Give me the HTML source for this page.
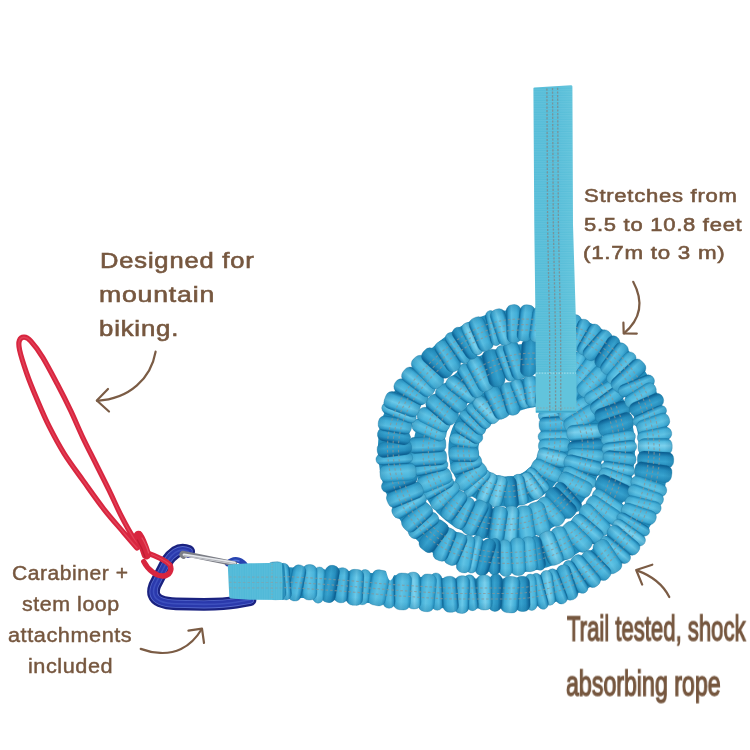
<!DOCTYPE html>
<html lang="en"><head><meta charset="utf-8"><title>Tow rope features</title>
<style>
html,body{margin:0;padding:0;background:#fff}
body{width:750px;height:750px;overflow:hidden;position:relative;font-family:"Liberation Sans",sans-serif}
svg{position:absolute;left:0;top:0}
.t{position:absolute;will-change:transform;-webkit-font-smoothing:antialiased;white-space:nowrap;color:#76573f;transform-origin:0 0;margin:0;-webkit-text-stroke:.35px #76573f}
</style></head>
<body>
<svg width="750" height="750" viewBox="0 0 750 750">

<defs>
<linearGradient id="g1" x1="0" x2="1" y1="0" y2="0"><stop offset="0" stop-color="#095e90"/><stop offset=".14" stop-color="#2f98c7"/><stop offset=".35" stop-color="#58bde1"/><stop offset=".7" stop-color="#44afd8"/><stop offset=".9" stop-color="#2c94c2"/><stop offset="1" stop-color="#1474a6"/></linearGradient>
<linearGradient id="g2" x1="0" x2="1" y1="0" y2="0"><stop offset="0" stop-color="#1271a4"/><stop offset=".18" stop-color="#40abd5"/><stop offset=".45" stop-color="#6ac9e9"/><stop offset=".8" stop-color="#3da8d3"/><stop offset="1" stop-color="#0c6293"/></linearGradient>
<linearGradient id="g3" x1="0" x2="1" y1="0" y2="0"><stop offset="0" stop-color="#07588c"/><stop offset=".3" stop-color="#278fbf"/><stop offset=".6" stop-color="#37a2ce"/><stop offset="1" stop-color="#1e84b5"/></linearGradient>
<linearGradient id="g4" x1="0" x2="1" y1="0" y2="0"><stop offset="0" stop-color="#228bbb"/><stop offset=".2" stop-color="#4ab4db"/><stop offset=".55" stop-color="#60c3e4"/><stop offset=".85" stop-color="#41acd6"/><stop offset="1" stop-color="#1e84b5"/></linearGradient>
<linearGradient id="g5" x1="0" x2="1" y1="0" y2="0"><stop offset="0" stop-color="#177cac"/><stop offset=".2" stop-color="#56bce0"/><stop offset=".45" stop-color="#7cd1ed"/><stop offset=".8" stop-color="#4db6dc"/><stop offset="1" stop-color="#0e6593"/></linearGradient>
<linearGradient id="ge" x1="0" x2="0" y1="0" y2="1"><stop offset="0" stop-color="#0c5d88" stop-opacity=".26"/><stop offset=".22" stop-color="#0c5d88" stop-opacity="0"/><stop offset=".78" stop-color="#0c5d88" stop-opacity="0"/><stop offset="1" stop-color="#0c5d88" stop-opacity=".26"/></linearGradient>
<linearGradient id="gs" x1="0" x2="1" y1="0" y2="0"><stop offset="0" stop-color="#56bdd8"/><stop offset=".5" stop-color="#55bcd8"/><stop offset="1" stop-color="#60c3db"/></linearGradient>
<pattern id="weave" width="4" height="2.4" patternUnits="userSpaceOnUse"><rect width="4" height="1.2" fill="#ffffff" fill-opacity=".07"/></pattern>
<pattern id="weave2" width="2.4" height="4" patternUnits="userSpaceOnUse"><rect width="1.2" height="4" fill="#ffffff" fill-opacity=".05"/></pattern>
</defs>

<g id="coil">
<polyline points="554.7,413.9 555.2,416.8 555.6,419.8 555.8,422.8 555.9,425.8 555.8,428.8 555.7,431.8 555.4,434.8 555.2,437.8 554.9,440.8 554.6,443.7 554.5,446.7 554.2,449.7 553.7,452.7 553.1,455.6 552.3,458.5 551.3,461.3 550.1,464.1 548.7,466.8 547.2,469.4 545.6,471.9 543.7,474.2 541.8,476.5 539.6,478.6 537.4,480.6 535.0,482.5 532.6,484.2 530.0,485.7 527.3,487.1 524.6,488.3 521.8,489.3 518.9,490.1 515.9,490.8 513.0,491.2 510.0,491.5 507.0,491.5 504.0,491.4 501.0,491.2 498.0,490.8 495.1,490.2 492.2,489.4 489.3,488.5 486.6,487.4 483.9,486.0 481.3,484.5 478.8,482.8 476.5,480.8 474.4,478.7 472.4,476.5 470.7,474.1 469.1,471.5 467.7,468.9 466.5,466.1 465.5,463.3 464.7,460.4 464.1,457.5 463.7,454.5 463.4,451.5 463.4,448.5 463.5,445.5 463.9,442.5 464.4,439.6 465.2,436.7 466.2,433.8 467.4,431.1 468.7,428.4 470.2,425.8 471.9,423.3 473.7,420.9 475.6,418.6 477.6,416.4 479.7,414.3 482.0,412.3 484.3,410.3 486.7,408.5 489.1,406.8 491.7,405.2 494.3,403.8 497.0,402.5 499.7,401.3 502.6,400.2 505.4,399.3 508.3,398.6 511.2,397.9 514.1,396.9 516.9,395.9 519.8,395.0 522.6,394.2 525.6,393.5 528.5,392.9 531.5,392.4 534.4,391.8 537.4,391.4 540.4,391.1 543.4,391.0 546.4,391.1 549.3,391.4 552.3,392.0 555.2,392.8 557.9,394.0 560.5,395.6 562.9,397.3 565.3,399.2 567.6,401.1 569.7,403.2 571.8,405.3 573.8,407.6 575.7,409.9 577.4,412.4 579.1,414.9 580.6,417.5 582.0,420.1 583.2,422.9 584.3,425.6 585.3,428.5 586.1,431.4 586.8,434.3 587.3,437.2 587.7,440.2 587.9,443.2 588.0,446.2 587.9,449.2 587.7,452.2 587.4,455.2 586.9,458.1 586.3,461.1 585.5,464.0 584.7,466.9 583.7,469.7 582.6,472.5 581.4,475.2 580.1,477.9 578.7,480.6 577.2,483.2 575.6,485.7 573.9,488.2 572.2,490.6 570.3,493.0 568.4,495.3 566.4,497.6 564.4,499.7 562.2,501.9 560.0,503.9 557.8,505.9 555.4,507.7 553.0,509.5 550.5,511.2 548.0,512.8 545.4,514.3 542.8,515.7 540.1,517.1 537.3,518.3 534.5,519.4 531.7,520.4 528.9,521.3 526.0,522.1 523.0,522.8 520.1,523.3 517.1,523.8 514.2,524.2 511.2,524.4 508.2,524.5 505.2,524.6 502.2,524.5 499.2,524.4 496.2,524.2 493.2,523.9 490.2,523.5 487.3,523.0 484.3,522.4 481.4,521.7 478.5,520.9 475.7,520.0 472.8,518.9 470.1,517.8 467.3,516.5 464.7,515.1 462.1,513.6 459.6,512.0 457.1,510.3 454.7,508.5 452.5,506.5 450.3,504.4 448.2,502.3 446.2,500.0 444.3,497.7 442.5,495.3 440.9,492.8 439.3,490.3 437.8,487.7 436.4,485.0 435.1,482.3 433.9,479.5 432.9,476.7 431.9,473.9 431.1,471.0 430.4,468.1 429.8,465.1 429.3,462.2 428.9,459.2 428.6,456.2 428.4,453.2 428.4,450.2 428.4,447.2 428.6,444.2 429.0,441.3 429.4,438.3 430.1,435.4 430.8,432.5 431.7,429.6 432.8,426.8 433.9,424.0 435.2,421.3 436.5,418.6 438.0,416.0 439.6,413.4 441.2,410.9 442.9,408.5 444.7,406.1 446.6,403.7 448.5,401.4 450.5,399.2 452.6,397.0 454.6,394.8 456.8,392.7 458.9,390.6 461.1,388.5 463.3,386.5 465.5,384.5 467.8,382.5 470.1,380.6 472.4,378.7 474.8,376.9 477.3,375.2 479.8,373.5 482.3,371.9 484.9,370.4 487.5,369.0 490.2,367.7 492.9,366.4 495.7,365.3 498.5,364.2 501.4,363.3 504.3,362.5 507.2,361.7 510.1,361.1 513.1,360.6 516.0,360.1 519.0,359.6 522.0,359.2 524.9,359.0 527.9,358.8 530.9,358.7 533.9,358.6 536.9,358.6 539.9,358.7 542.9,358.8 545.9,359.1 548.9,359.4 551.9,359.8 554.8,360.4 557.7,361.0 560.7,361.8 563.5,362.7 566.3,363.7 569.1,364.8 571.9,366.0 574.5,367.4 577.1,368.9 579.7,370.5 582.1,372.3 584.5,374.1 586.8,376.1 589.0,378.0 591.2,380.1 593.3,382.2 595.3,384.4 597.3,386.7 599.2,389.0 601.0,391.4 602.8,393.8 604.5,396.3 606.1,398.8 607.6,401.4 609.0,404.1 610.4,406.7 611.7,409.4 612.9,412.2 614.0,415.0 615.0,417.8 615.9,420.7 616.7,423.6 617.5,426.5 618.1,429.4 618.7,432.3 619.1,435.3 619.5,438.3 619.8,441.3 619.9,444.3 620.0,447.3 620.0,450.3 619.9,453.3 619.8,456.3 619.5,459.2 619.2,462.2 618.8,465.2 618.3,468.2 617.7,471.1 617.0,474.0 616.3,476.9 615.5,479.8 614.6,482.7 613.6,485.5 612.5,488.3 611.4,491.1 610.2,493.9 608.9,496.6 607.6,499.2 606.1,501.9 604.6,504.5 603.1,507.0 601.4,509.5 599.7,512.0 597.9,514.4 596.1,516.8 594.2,519.1 592.2,521.4 590.2,523.6 588.1,525.7 585.9,527.8 583.7,529.8 581.4,531.8 579.1,533.7 576.7,535.5 574.3,537.3 571.8,539.0 569.3,540.6 566.8,542.2 564.2,543.7 561.5,545.1 558.9,546.5 556.1,547.8 553.4,549.0 550.6,550.1 547.8,551.2 545.0,552.2 542.1,553.1 539.2,553.9 536.3,554.7 533.4,555.3 530.5,555.9 527.5,556.5 524.6,556.9 521.6,557.3 518.6,557.6 515.6,557.8 512.6,557.9 509.6,558.0 506.6,558.0 503.6,557.9 500.6,557.8 497.6,557.6 494.6,557.4 491.6,557.1 488.7,556.8 485.7,556.4 482.7,555.9 479.8,555.4 476.8,554.8 473.9,554.1 471.0,553.4 468.1,552.6 465.3,551.7 462.4,550.7 459.6,549.7 456.8,548.5 454.1,547.3 451.3,546.1 448.7,544.7 446.0,543.3 443.4,541.8 440.9,540.2 438.4,538.5 436.0,536.8 433.6,534.9 431.3,533.0 429.0,531.0 426.9,529.0 424.8,526.8 422.7,524.6 420.7,522.4 418.8,520.1 416.9,517.7 415.1,515.4 413.4,512.9 411.7,510.4 410.1,507.9 408.5,505.3 407.1,502.7 405.6,500.1 404.3,497.4 403.0,494.7 401.8,491.9 400.7,489.1 399.7,486.3 398.7,483.5 397.8,480.6 397.0,477.7 396.2,474.8 395.6,471.9 395.0,469.0 394.4,466.0 394.0,463.0 393.6,460.1 393.4,457.1 393.2,454.1 393.0,451.1 393.0,448.1 393.0,445.1 393.2,442.1 393.4,439.1 393.8,436.1 394.2,433.2 394.8,430.2 395.5,427.3 396.3,424.4 397.1,421.5 398.1,418.7 399.1,415.9 400.2,413.1 401.5,410.3 402.7,407.6 404.1,405.0 405.5,402.3 407.0,399.7 408.6,397.2 410.2,394.6 411.9,392.2 413.7,389.7 415.5,387.3 417.3,384.9 419.2,382.6 421.1,380.3 423.1,378.1 425.1,375.8 427.1,373.6 429.2,371.5 431.3,369.3 433.4,367.2 435.6,365.1 437.8,363.0 439.9,361.0 442.1,359.0 444.4,357.0 446.6,355.0 448.9,353.0 451.3,351.1 453.6,349.3 456.0,347.5 458.4,345.7 460.9,344.0 463.4,342.3 465.9,340.7 468.5,339.2 471.1,337.7 473.7,336.3 476.4,334.9 479.1,333.6 481.9,332.4 484.6,331.3 487.5,330.2 490.3,329.3 493.2,328.4 496.0,327.6 499.0,326.9 501.9,326.3 504.9,325.7 507.8,325.3 510.8,325.0 513.8,324.8 516.8,324.6 519.8,324.6 522.8,324.6 525.8,324.6 528.8,324.6 531.8,324.8 534.8,324.9 537.8,325.1 540.8,325.4 543.8,325.7 546.7,326.0 549.7,326.5 552.7,326.9 555.6,327.5 558.6,328.1 561.5,328.8 564.4,329.5 567.3,330.3 570.1,331.2 573.0,332.1 575.8,333.1 578.6,334.2 581.4,335.4 584.1,336.6 586.8,337.9 589.5,339.3 592.1,340.7 594.7,342.3 597.2,343.9 599.7,345.5 602.2,347.3 604.5,349.1 606.9,351.0 609.2,352.9 611.4,354.9 613.6,357.0 615.7,359.1 617.8,361.2 619.9,363.4 621.9,365.6 623.8,367.9 625.7,370.2 627.6,372.6 629.4,375.0 631.1,377.5 632.8,379.9 634.4,382.5 636.0,385.0 637.5,387.6 638.9,390.3 640.3,392.9 641.6,395.6 642.9,398.3 644.1,401.1 645.2,403.9 646.3,406.7 647.3,409.5 648.2,412.4 649.1,415.2 649.9,418.1 650.6,421.0 651.3,424.0 651.9,426.9 652.4,429.8 652.8,432.8 653.2,435.8 653.5,438.8 653.8,441.8 653.9,444.8 654.0,447.8 654.1,450.8 654.1,453.8 654.0,456.8 653.8,459.7 653.6,462.7 653.3,465.7 653.0,468.7 652.6,471.7 652.1,474.6 651.6,477.6 651.0,480.5 650.4,483.5 649.7,486.4 648.9,489.3 648.1,492.2 647.2,495.0 646.2,497.9 645.2,500.7 644.1,503.5 643.0,506.3 641.8,509.0 640.5,511.8 639.2,514.5 637.9,517.1 636.4,519.8 635.0,522.4 633.4,524.9 631.8,527.5 630.2,530.0 628.5,532.5 626.7,534.9 624.9,537.3 623.1,539.7 621.2,542.0 619.2,544.2 617.2,546.5 615.1,548.6 613.0,550.8 610.9,552.9 608.7,554.9 606.5,556.9 604.2,558.9 601.9,560.8 599.5,562.7 597.1,564.5 594.7,566.3 592.3,568.0 589.8,569.6 587.2,571.3 584.7,572.8 582.1,574.3 579.5,575.8 576.8,577.2 574.1,578.5 571.4,579.8 568.7,581.1 565.9,582.3 563.2,583.4 560.4,584.5 557.5,585.5 554.7,586.4 551.8,587.3 548.9,588.2 546.0,588.9 543.1,589.7 540.2,590.3 537.3,590.9 534.3,591.4 531.4,591.9 528.4,592.3 525.4,592.7 522.4,593.0 519.4,593.2 516.4,593.4 513.4,593.5 510.4,593.5 507.4,593.5 504.4,593.5 501.4,593.5 498.4,593.5 495.4,593.5 492.4,593.5 489.4,593.5 486.4,593.5 483.4,593.5 480.4,593.5 477.4,593.5 474.4,593.5 471.4,593.5 468.4,593.5 465.4,593.5 462.4,593.5 459.4,593.5 456.4,593.5 453.4,593.4 450.4,593.4 447.4,593.3 444.4,593.2 441.4,593.1 438.4,592.9 435.4,592.8 432.4,592.6 429.5,592.4 426.5,592.3 423.5,592.1 420.5,591.9 417.5,591.7 414.5,591.5 411.5,591.3 408.5,591.1 405.5,590.9 402.5,590.7 399.5,590.5 396.5,590.3 393.5,590.1 390.5,589.8 387.5,589.6 384.6,589.4 381.6,589.1 378.6,588.8 375.6,588.6 372.6,588.3 369.6,588.0 366.6,587.8 363.6,587.5 360.7,587.2 357.7,586.9 354.7,586.7 351.7,586.4 348.7,586.2 345.7,585.9 342.7,585.7 339.7,585.5 336.7,585.3 333.7,585.1 330.7,584.8 327.8,584.6 324.8,584.4 321.8,584.2 318.8,584.0 315.8,583.8 312.8,583.6 309.8,583.4 306.8,583.2 303.8,583.0 300.8,582.9 297.8,582.7 294.8,582.5 291.8,582.4 288.8,582.2 285.8,582.1 282.8,582.0 279.8,581.9 276.8,581.8" fill="none" stroke="#228bba" stroke-width="30" stroke-linejoin="round"/>
<g transform="translate(554.7,413.9) rotate(79.2)"><rect x="-6.4" y="-17.2" width="12.8" height="33.7" rx="6.5" fill="url(#g2)" stroke="#14709a" stroke-opacity=".4" stroke-width=".7"/><rect x="-6.4" y="-17.2" width="12.8" height="33.7" rx="6.5" fill="url(#ge)"/></g>
<g transform="translate(555.9,424.4) rotate(87.2)"><rect x="-7.8" y="-17.0" width="15.7" height="33.9" rx="6.5" fill="url(#g1)" stroke="#14709a" stroke-opacity=".4" stroke-width=".7"/><rect x="-7.8" y="-17.0" width="15.7" height="33.9" rx="6.5" fill="url(#ge)"/></g>
<g transform="translate(555.3,436.7) rotate(90.4)"><rect x="-5.9" y="-16.8" width="11.7" height="34.1" rx="6.5" fill="url(#g4)" stroke="#14709a" stroke-opacity=".4" stroke-width=".7"/><rect x="-5.9" y="-16.8" width="11.7" height="34.1" rx="6.5" fill="url(#ge)"/></g>
<g transform="translate(554.5,445.7) rotate(87.9)"><rect x="-7.2" y="-15.9" width="14.4" height="32.0" rx="6.5" fill="url(#g4)" stroke="#14709a" stroke-opacity=".4" stroke-width=".7"/><rect x="-7.2" y="-15.9" width="14.4" height="32.0" rx="6.5" fill="url(#ge)"/></g>
<g transform="translate(552.5,457.8) rotate(103.4)"><rect x="-8.3" y="-15.2" width="16.5" height="30.6" rx="6.5" fill="url(#g5)" stroke="#14709a" stroke-opacity=".4" stroke-width=".7"/><rect x="-8.3" y="-15.2" width="16.5" height="30.6" rx="6.5" fill="url(#ge)"/></g>
<g transform="translate(546.5,470.5) rotate(116.5)"><rect x="-7.5" y="-16.1" width="15.1" height="31.9" rx="6.5" fill="url(#g4)" stroke="#14709a" stroke-opacity=".4" stroke-width=".7"/><rect x="-7.5" y="-16.1" width="15.1" height="31.9" rx="6.5" fill="url(#ge)"/></g>
<g transform="translate(538.0,480.2) rotate(137.9)"><rect x="-5.5" y="-14.3" width="11.0" height="29.4" rx="6.5" fill="url(#g2)" stroke="#14709a" stroke-opacity=".4" stroke-width=".7"/><rect x="-5.5" y="-14.3" width="11.0" height="29.4" rx="6.5" fill="url(#ge)"/></g>
<g transform="translate(530.7,485.3) rotate(144.3)"><rect x="-7.5" y="-15.5" width="14.9" height="29.3" rx="6.5" fill="url(#g5)" stroke="#14709a" stroke-opacity=".4" stroke-width=".7"/><rect x="-7.5" y="-15.5" width="14.9" height="29.3" rx="6.5" fill="url(#ge)"/></g>
<g transform="translate(520.1,489.8) rotate(168.3)"><rect x="-6.5" y="-15.6" width="12.9" height="31.4" rx="6.5" fill="url(#g2)" stroke="#14709a" stroke-opacity=".4" stroke-width=".7"/><rect x="-6.5" y="-15.6" width="12.9" height="31.4" rx="6.5" fill="url(#ge)"/></g>
<g transform="translate(510.2,491.4) rotate(173.9)"><rect x="-7.3" y="-18.1" width="14.6" height="33.1" rx="6.5" fill="url(#g3)" stroke="#14709a" stroke-opacity=".4" stroke-width=".7"/><rect x="-7.3" y="-18.1" width="14.6" height="33.1" rx="6.5" fill="url(#ge)"/></g>
<g transform="translate(497.8,490.7) rotate(-165.1)"><rect x="-7.3" y="-16.9" width="14.7" height="32.1" rx="6.5" fill="url(#g5)" stroke="#14709a" stroke-opacity=".4" stroke-width=".7"/><rect x="-7.3" y="-16.9" width="14.7" height="32.1" rx="6.5" fill="url(#ge)"/></g>
<g transform="translate(487.0,487.6) rotate(-157.1)"><rect x="-6.8" y="-17.1" width="13.6" height="32.8" rx="6.5" fill="url(#g5)" stroke="#14709a" stroke-opacity=".4" stroke-width=".7"/><rect x="-6.8" y="-17.1" width="13.6" height="32.8" rx="6.5" fill="url(#ge)"/></g>
<g transform="translate(478.0,482.1) rotate(-136.8)"><rect x="-5.8" y="-18.4" width="11.5" height="33.8" rx="6.5" fill="url(#g2)" stroke="#14709a" stroke-opacity=".4" stroke-width=".7"/><rect x="-5.8" y="-18.4" width="11.5" height="33.8" rx="6.5" fill="url(#ge)"/></g>
<g transform="translate(471.7,475.6) rotate(-128.9)"><rect x="-8.1" y="-18.2" width="16.2" height="34.8" rx="6.5" fill="url(#g4)" stroke="#14709a" stroke-opacity=".4" stroke-width=".7"/><rect x="-8.1" y="-18.2" width="16.2" height="34.8" rx="6.5" fill="url(#ge)"/></g>
<g transform="translate(465.8,464.4) rotate(-109.1)"><rect x="-7.1" y="-15.8" width="14.2" height="32.2" rx="6.5" fill="url(#g1)" stroke="#14709a" stroke-opacity=".4" stroke-width=".7"/><rect x="-7.1" y="-15.8" width="14.2" height="32.2" rx="6.5" fill="url(#ge)"/></g>
<g transform="translate(463.6,453.9) rotate(-88.7)"><rect x="-7.8" y="-14.7" width="15.7" height="29.8" rx="6.5" fill="url(#g1)" stroke="#14709a" stroke-opacity=".4" stroke-width=".7"/><rect x="-7.8" y="-14.7" width="15.7" height="29.8" rx="6.5" fill="url(#ge)"/></g>
<g transform="translate(464.3,440.4) rotate(-79.6)"><rect x="-6.1" y="-14.8" width="12.2" height="29.8" rx="6.5" fill="url(#g4)" stroke="#14709a" stroke-opacity=".4" stroke-width=".7"/><rect x="-6.1" y="-14.8" width="12.2" height="29.8" rx="6.5" fill="url(#ge)"/></g>
<g transform="translate(467.2,431.4) rotate(-57.4)"><rect x="-6.5" y="-13.7" width="12.9" height="31.0" rx="6.5" fill="url(#g1)" stroke="#14709a" stroke-opacity=".4" stroke-width=".7"/><rect x="-6.5" y="-13.7" width="12.9" height="31.0" rx="6.5" fill="url(#ge)"/></g>
<g transform="translate(472.5,422.5) rotate(-47.8)"><rect x="-5.6" y="-15.8" width="11.3" height="31.7" rx="6.5" fill="url(#g1)" stroke="#14709a" stroke-opacity=".4" stroke-width=".7"/><rect x="-5.6" y="-15.8" width="11.3" height="31.7" rx="6.5" fill="url(#ge)"/></g>
<g transform="translate(478.3,415.6) rotate(-43.9)"><rect x="-6.1" y="-14.6" width="12.2" height="30.5" rx="6.5" fill="url(#g1)" stroke="#14709a" stroke-opacity=".4" stroke-width=".7"/><rect x="-6.1" y="-14.6" width="12.2" height="30.5" rx="6.5" fill="url(#ge)"/></g>
<g transform="translate(486.1,409.0) rotate(-44.6)"><rect x="-7.9" y="-14.7" width="15.8" height="31.5" rx="6.5" fill="url(#g5)" stroke="#14709a" stroke-opacity=".4" stroke-width=".7"/><rect x="-7.9" y="-14.7" width="15.8" height="31.5" rx="6.5" fill="url(#ge)"/></g>
<g transform="translate(497.2,402.4) rotate(-26.3)"><rect x="-8.4" y="-17.2" width="16.9" height="34.4" rx="6.5" fill="url(#g1)" stroke="#14709a" stroke-opacity=".4" stroke-width=".7"/><rect x="-8.4" y="-17.2" width="16.9" height="34.4" rx="6.5" fill="url(#ge)"/></g>
<g transform="translate(510.1,398.2) rotate(-16.1)"><rect x="-7.1" y="-16.0" width="14.2" height="33.4" rx="6.5" fill="url(#g1)" stroke="#14709a" stroke-opacity=".4" stroke-width=".7"/><rect x="-7.1" y="-16.0" width="14.2" height="33.4" rx="6.5" fill="url(#ge)"/></g>
<g transform="translate(521.1,394.5) rotate(-22.8)"><rect x="-6.4" y="-17.0" width="12.8" height="31.4" rx="6.5" fill="url(#g2)" stroke="#14709a" stroke-opacity=".4" stroke-width=".7"/><rect x="-6.4" y="-17.0" width="12.8" height="31.4" rx="6.5" fill="url(#ge)"/></g>
<g transform="translate(531.6,392.3) rotate(-8.5)"><rect x="-7.3" y="-16.8" width="14.6" height="31.4" rx="6.5" fill="url(#g2)" stroke="#14709a" stroke-opacity=".4" stroke-width=".7"/><rect x="-7.3" y="-16.8" width="14.6" height="31.4" rx="6.5" fill="url(#ge)"/></g>
<g transform="translate(544.0,391.0) rotate(9.0)"><rect x="-7.6" y="-19.4" width="15.1" height="35.6" rx="6.5" fill="url(#g3)" stroke="#14709a" stroke-opacity=".4" stroke-width=".7"/><rect x="-7.6" y="-19.4" width="15.1" height="35.6" rx="6.5" fill="url(#ge)"/></g>
<g transform="translate(556.1,393.2) rotate(18.4)"><rect x="-6.9" y="-18.8" width="13.8" height="34.1" rx="6.5" fill="url(#g5)" stroke="#14709a" stroke-opacity=".4" stroke-width=".7"/><rect x="-6.9" y="-18.8" width="13.8" height="34.1" rx="6.5" fill="url(#ge)"/></g>
<g transform="translate(565.8,399.6) rotate(37.4)"><rect x="-7.9" y="-16.4" width="15.8" height="32.6" rx="6.5" fill="url(#g4)" stroke="#14709a" stroke-opacity=".4" stroke-width=".7"/><rect x="-7.9" y="-16.4" width="15.8" height="32.6" rx="6.5" fill="url(#ge)"/></g>
<g transform="translate(574.9,408.9) rotate(58.2)"><rect x="-7.0" y="-16.6" width="14.1" height="34.3" rx="6.5" fill="url(#g4)" stroke="#14709a" stroke-opacity=".4" stroke-width=".7"/><rect x="-7.0" y="-16.6" width="14.1" height="34.3" rx="6.5" fill="url(#ge)"/></g>
<g transform="translate(581.4,419.0) rotate(57.8)"><rect x="-8.4" y="-18.6" width="16.8" height="37.3" rx="6.5" fill="url(#g4)" stroke="#14709a" stroke-opacity=".4" stroke-width=".7"/><rect x="-8.4" y="-18.6" width="16.8" height="37.3" rx="6.5" fill="url(#ge)"/></g>
<g transform="translate(586.3,432.1) rotate(84.8)"><rect x="-8.0" y="-16.2" width="16.1" height="35.7" rx="6.5" fill="url(#g5)" stroke="#14709a" stroke-opacity=".4" stroke-width=".7"/><rect x="-8.0" y="-16.2" width="16.1" height="35.7" rx="6.5" fill="url(#ge)"/></g>
<g transform="translate(588.0,445.5) rotate(84.1)"><rect x="-6.1" y="-16.1" width="12.1" height="36.5" rx="6.5" fill="url(#g3)" stroke="#14709a" stroke-opacity=".4" stroke-width=".7"/><rect x="-6.1" y="-16.1" width="12.1" height="36.5" rx="6.5" fill="url(#ge)"/></g>
<g transform="translate(587.3,455.2) rotate(93.7)"><rect x="-6.4" y="-17.3" width="12.9" height="37.0" rx="6.5" fill="url(#g4)" stroke="#14709a" stroke-opacity=".4" stroke-width=".7"/><rect x="-6.4" y="-17.3" width="12.9" height="37.0" rx="6.5" fill="url(#ge)"/></g>
<g transform="translate(585.0,465.8) rotate(104.1)"><rect x="-7.5" y="-17.7" width="14.9" height="39.2" rx="6.5" fill="url(#g2)" stroke="#14709a" stroke-opacity=".4" stroke-width=".7"/><rect x="-7.5" y="-17.7" width="14.9" height="39.2" rx="6.5" fill="url(#ge)"/></g>
<g transform="translate(580.4,477.3) rotate(116.0)"><rect x="-5.6" y="-17.4" width="11.2" height="36.2" rx="6.5" fill="url(#g4)" stroke="#14709a" stroke-opacity=".4" stroke-width=".7"/><rect x="-5.6" y="-17.4" width="11.2" height="36.2" rx="6.5" fill="url(#ge)"/></g>
<g transform="translate(576.0,485.2) rotate(115.1)"><rect x="-8.3" y="-16.4" width="16.7" height="35.1" rx="6.5" fill="url(#g4)" stroke="#14709a" stroke-opacity=".4" stroke-width=".7"/><rect x="-8.3" y="-16.4" width="16.7" height="35.1" rx="6.5" fill="url(#ge)"/></g>
<g transform="translate(567.6,496.3) rotate(138.5)"><rect x="-5.9" y="-18.6" width="11.9" height="35.5" rx="6.5" fill="url(#g3)" stroke="#14709a" stroke-opacity=".4" stroke-width=".7"/><rect x="-5.9" y="-18.6" width="11.9" height="35.5" rx="6.5" fill="url(#ge)"/></g>
<g transform="translate(561.1,502.9) rotate(135.4)"><rect x="-8.1" y="-17.8" width="16.1" height="36.0" rx="6.5" fill="url(#g3)" stroke="#14709a" stroke-opacity=".4" stroke-width=".7"/><rect x="-8.1" y="-17.8" width="16.1" height="36.0" rx="6.5" fill="url(#ge)"/></g>
<g transform="translate(550.4,511.3) rotate(138.2)"><rect x="-7.7" y="-17.0" width="15.5" height="33.3" rx="6.5" fill="url(#g4)" stroke="#14709a" stroke-opacity=".4" stroke-width=".7"/><rect x="-7.7" y="-17.0" width="15.5" height="33.3" rx="6.5" fill="url(#ge)"/></g>
<g transform="translate(538.7,517.7) rotate(164.8)"><rect x="-8.8" y="-17.8" width="17.6" height="33.7" rx="6.5" fill="url(#g4)" stroke="#14709a" stroke-opacity=".4" stroke-width=".7"/><rect x="-8.8" y="-17.8" width="17.6" height="33.7" rx="6.5" fill="url(#ge)"/></g>
<g transform="translate(525.1,522.3) rotate(171.8)"><rect x="-8.4" y="-21.2" width="16.8" height="37.6" rx="6.5" fill="url(#g4)" stroke="#14709a" stroke-opacity=".4" stroke-width=".7"/><rect x="-8.4" y="-21.2" width="16.8" height="37.6" rx="6.5" fill="url(#ge)"/></g>
<g transform="translate(510.7,524.4) rotate(183.6)"><rect x="-7.8" y="-20.4" width="15.5" height="38.8" rx="6.5" fill="url(#g5)" stroke="#14709a" stroke-opacity=".4" stroke-width=".7"/><rect x="-7.8" y="-20.4" width="15.5" height="38.8" rx="6.5" fill="url(#ge)"/></g>
<g transform="translate(497.9,524.3) rotate(-171.4)"><rect x="-8.1" y="-18.2" width="16.2" height="36.1" rx="6.5" fill="url(#g2)" stroke="#14709a" stroke-opacity=".4" stroke-width=".7"/><rect x="-8.1" y="-18.2" width="16.2" height="36.1" rx="6.5" fill="url(#ge)"/></g>
<g transform="translate(483.9,522.3) rotate(-169.9)"><rect x="-6.4" y="-16.7" width="12.8" height="36.5" rx="6.5" fill="url(#g3)" stroke="#14709a" stroke-opacity=".4" stroke-width=".7"/><rect x="-6.4" y="-16.7" width="12.8" height="36.5" rx="6.5" fill="url(#ge)"/></g>
<g transform="translate(474.2,519.4) rotate(-153.0)"><rect x="-8.0" y="-16.7" width="16.0" height="37.1" rx="6.5" fill="url(#g1)" stroke="#14709a" stroke-opacity=".4" stroke-width=".7"/><rect x="-8.0" y="-16.7" width="16.0" height="37.1" rx="6.5" fill="url(#ge)"/></g>
<g transform="translate(462.6,514.0) rotate(-155.0)"><rect x="-7.4" y="-15.3" width="14.7" height="33.4" rx="6.5" fill="url(#g1)" stroke="#14709a" stroke-opacity=".4" stroke-width=".7"/><rect x="-7.4" y="-15.3" width="14.7" height="33.4" rx="6.5" fill="url(#ge)"/></g>
<g transform="translate(452.9,506.9) rotate(-145.3)"><rect x="-7.9" y="-14.4" width="15.8" height="32.5" rx="6.5" fill="url(#g1)" stroke="#14709a" stroke-opacity=".4" stroke-width=".7"/><rect x="-7.9" y="-14.4" width="15.8" height="32.5" rx="6.5" fill="url(#ge)"/></g>
<g transform="translate(443.8,497.0) rotate(-134.3)"><rect x="-6.7" y="-15.8" width="13.4" height="35.2" rx="6.5" fill="url(#g4)" stroke="#14709a" stroke-opacity=".4" stroke-width=".7"/><rect x="-6.7" y="-15.8" width="13.4" height="35.2" rx="6.5" fill="url(#ge)"/></g>
<g transform="translate(438.0,488.1) rotate(-119.8)"><rect x="-5.6" y="-17.4" width="11.2" height="34.7" rx="6.5" fill="url(#g1)" stroke="#14709a" stroke-opacity=".4" stroke-width=".7"/><rect x="-5.6" y="-17.4" width="11.2" height="34.7" rx="6.5" fill="url(#ge)"/></g>
<g transform="translate(434.2,480.1) rotate(-112.2)"><rect x="-8.4" y="-17.2" width="16.8" height="35.3" rx="6.5" fill="url(#g4)" stroke="#14709a" stroke-opacity=".4" stroke-width=".7"/><rect x="-8.4" y="-17.2" width="16.8" height="35.3" rx="6.5" fill="url(#ge)"/></g>
<g transform="translate(430.2,467.3) rotate(-102.2)"><rect x="-6.1" y="-18.0" width="12.2" height="36.1" rx="6.5" fill="url(#g1)" stroke="#14709a" stroke-opacity=".4" stroke-width=".7"/><rect x="-6.1" y="-18.0" width="12.2" height="36.1" rx="6.5" fill="url(#ge)"/></g>
<g transform="translate(428.7,457.6) rotate(-94.1)"><rect x="-8.2" y="-21.0" width="16.4" height="39.0" rx="6.5" fill="url(#g1)" stroke="#14709a" stroke-opacity=".4" stroke-width=".7"/><rect x="-8.2" y="-21.0" width="16.4" height="39.0" rx="6.5" fill="url(#ge)"/></g>
<g transform="translate(428.6,444.6) rotate(-93.2)"><rect x="-8.1" y="-20.4" width="16.2" height="37.7" rx="6.5" fill="url(#g1)" stroke="#14709a" stroke-opacity=".4" stroke-width=".7"/><rect x="-8.1" y="-20.4" width="16.2" height="37.7" rx="6.5" fill="url(#ge)"/></g>
<g transform="translate(431.3,430.9) rotate(-67.5)"><rect x="-6.8" y="-20.3" width="13.6" height="35.8" rx="6.5" fill="url(#g4)" stroke="#14709a" stroke-opacity=".4" stroke-width=".7"/><rect x="-6.8" y="-20.3" width="13.6" height="35.8" rx="6.5" fill="url(#ge)"/></g>
<g transform="translate(435.6,420.5) rotate(-63.9)"><rect x="-7.6" y="-19.5" width="15.2" height="34.8" rx="6.5" fill="url(#g4)" stroke="#14709a" stroke-opacity=".4" stroke-width=".7"/><rect x="-7.6" y="-19.5" width="15.2" height="34.8" rx="6.5" fill="url(#ge)"/></g>
<g transform="translate(442.1,409.6) rotate(-48.8)"><rect x="-8.6" y="-17.8" width="17.3" height="35.8" rx="6.5" fill="url(#g1)" stroke="#14709a" stroke-opacity=".4" stroke-width=".7"/><rect x="-8.6" y="-17.8" width="17.3" height="35.8" rx="6.5" fill="url(#ge)"/></g>
<g transform="translate(451.4,398.2) rotate(-50.0)"><rect x="-8.3" y="-17.3" width="16.6" height="34.1" rx="6.5" fill="url(#g1)" stroke="#14709a" stroke-opacity=".4" stroke-width=".7"/><rect x="-8.3" y="-17.3" width="16.6" height="34.1" rx="6.5" fill="url(#ge)"/></g>
<g transform="translate(460.6,388.9) rotate(-52.2)"><rect x="-7.6" y="-16.2" width="15.2" height="33.6" rx="6.5" fill="url(#g2)" stroke="#14709a" stroke-opacity=".4" stroke-width=".7"/><rect x="-7.6" y="-16.2" width="15.2" height="33.6" rx="6.5" fill="url(#ge)"/></g>
<g transform="translate(470.5,380.2) rotate(-31.2)"><rect x="-7.2" y="-17.9" width="14.3" height="36.8" rx="6.5" fill="url(#g1)" stroke="#14709a" stroke-opacity=".4" stroke-width=".7"/><rect x="-7.2" y="-17.9" width="14.3" height="36.8" rx="6.5" fill="url(#ge)"/></g>
<g transform="translate(480.1,373.3) rotate(-27.7)"><rect x="-8.5" y="-17.8" width="17.0" height="36.8" rx="6.5" fill="url(#g2)" stroke="#14709a" stroke-opacity=".4" stroke-width=".7"/><rect x="-8.5" y="-17.8" width="17.0" height="36.8" rx="6.5" fill="url(#ge)"/></g>
<g transform="translate(493.2,366.3) rotate(-15.3)"><rect x="-8.3" y="-17.0" width="16.6" height="37.6" rx="6.5" fill="url(#g3)" stroke="#14709a" stroke-opacity=".4" stroke-width=".7"/><rect x="-8.3" y="-17.0" width="16.6" height="37.6" rx="6.5" fill="url(#ge)"/></g>
<g transform="translate(505.9,362.0) rotate(-21.0)"><rect x="-6.4" y="-17.3" width="12.8" height="37.5" rx="6.5" fill="url(#g1)" stroke="#14709a" stroke-opacity=".4" stroke-width=".7"/><rect x="-6.4" y="-17.3" width="12.8" height="37.5" rx="6.5" fill="url(#ge)"/></g>
<g transform="translate(515.2,360.2) rotate(-18.4)"><rect x="-8.0" y="-19.4" width="16.0" height="39.1" rx="6.5" fill="url(#g1)" stroke="#14709a" stroke-opacity=".4" stroke-width=".7"/><rect x="-8.0" y="-19.4" width="16.0" height="39.1" rx="6.5" fill="url(#ge)"/></g>
<g transform="translate(528.8,358.8) rotate(3.7)"><rect x="-7.9" y="-19.9" width="15.8" height="37.5" rx="6.5" fill="url(#g3)" stroke="#14709a" stroke-opacity=".4" stroke-width=".7"/><rect x="-7.9" y="-19.9" width="15.8" height="37.5" rx="6.5" fill="url(#ge)"/></g>
<g transform="translate(542.5,358.8) rotate(5.8)"><rect x="-6.0" y="-17.1" width="12.1" height="33.9" rx="6.5" fill="url(#g1)" stroke="#14709a" stroke-opacity=".4" stroke-width=".7"/><rect x="-6.0" y="-17.1" width="12.1" height="33.9" rx="6.5" fill="url(#ge)"/></g>
<g transform="translate(551.0,359.7) rotate(0.8)"><rect x="-7.1" y="-18.5" width="14.3" height="33.1" rx="6.5" fill="url(#g1)" stroke="#14709a" stroke-opacity=".4" stroke-width=".7"/><rect x="-7.1" y="-18.5" width="14.3" height="33.1" rx="6.5" fill="url(#ge)"/></g>
<g transform="translate(562.6,362.4) rotate(16.5)"><rect x="-8.8" y="-19.8" width="17.5" height="35.2" rx="6.5" fill="url(#g4)" stroke="#14709a" stroke-opacity=".4" stroke-width=".7"/><rect x="-8.8" y="-19.8" width="17.5" height="35.2" rx="6.5" fill="url(#ge)"/></g>
<g transform="translate(575.9,368.2) rotate(21.2)"><rect x="-6.1" y="-18.8" width="12.2" height="33.6" rx="6.5" fill="url(#g4)" stroke="#14709a" stroke-opacity=".4" stroke-width=".7"/><rect x="-6.1" y="-18.8" width="12.2" height="33.6" rx="6.5" fill="url(#ge)"/></g>
<g transform="translate(583.9,373.7) rotate(37.7)"><rect x="-7.6" y="-19.0" width="15.3" height="34.7" rx="6.5" fill="url(#g4)" stroke="#14709a" stroke-opacity=".4" stroke-width=".7"/><rect x="-7.6" y="-19.0" width="15.3" height="34.7" rx="6.5" fill="url(#ge)"/></g>
<g transform="translate(592.6,381.6) rotate(43.6)"><rect x="-8.2" y="-18.2" width="16.5" height="36.5" rx="6.5" fill="url(#g4)" stroke="#14709a" stroke-opacity=".4" stroke-width=".7"/><rect x="-8.2" y="-18.2" width="16.5" height="36.5" rx="6.5" fill="url(#ge)"/></g>
<g transform="translate(601.6,392.1) rotate(60.6)"><rect x="-6.4" y="-19.4" width="12.8" height="38.0" rx="6.5" fill="url(#g4)" stroke="#14709a" stroke-opacity=".4" stroke-width=".7"/><rect x="-6.4" y="-19.4" width="12.8" height="38.0" rx="6.5" fill="url(#ge)"/></g>
<g transform="translate(607.3,400.9) rotate(53.4)"><rect x="-7.6" y="-18.8" width="15.2" height="37.5" rx="6.5" fill="url(#g1)" stroke="#14709a" stroke-opacity=".4" stroke-width=".7"/><rect x="-7.6" y="-18.8" width="15.2" height="37.5" rx="6.5" fill="url(#ge)"/></g>
<g transform="translate(612.9,412.2) rotate(70.6)"><rect x="-7.9" y="-17.6" width="15.9" height="36.1" rx="6.5" fill="url(#g3)" stroke="#14709a" stroke-opacity=".4" stroke-width=".7"/><rect x="-7.9" y="-17.6" width="15.9" height="36.1" rx="6.5" fill="url(#ge)"/></g>
<g transform="translate(616.9,424.1) rotate(71.4)"><rect x="-8.6" y="-16.9" width="17.2" height="36.0" rx="6.5" fill="url(#g3)" stroke="#14709a" stroke-opacity=".4" stroke-width=".7"/><rect x="-8.6" y="-16.9" width="17.2" height="36.0" rx="6.5" fill="url(#ge)"/></g>
<g transform="translate(619.5,438.0) rotate(80.7)"><rect x="-6.1" y="-16.1" width="12.1" height="34.6" rx="6.5" fill="url(#g4)" stroke="#14709a" stroke-opacity=".4" stroke-width=".7"/><rect x="-6.1" y="-16.1" width="12.1" height="34.6" rx="6.5" fill="url(#ge)"/></g>
<g transform="translate(620.0,447.7) rotate(83.8)"><rect x="-6.3" y="-16.8" width="12.7" height="34.9" rx="6.5" fill="url(#g2)" stroke="#14709a" stroke-opacity=".4" stroke-width=".7"/><rect x="-6.3" y="-16.8" width="12.7" height="34.9" rx="6.5" fill="url(#ge)"/></g>
<g transform="translate(619.6,458.3) rotate(95.2)"><rect x="-6.8" y="-16.6" width="13.7" height="33.3" rx="6.5" fill="url(#g1)" stroke="#14709a" stroke-opacity=".4" stroke-width=".7"/><rect x="-6.8" y="-16.6" width="13.7" height="33.3" rx="6.5" fill="url(#ge)"/></g>
<g transform="translate(618.1,469.1) rotate(98.9)"><rect x="-6.2" y="-16.8" width="12.3" height="34.0" rx="6.5" fill="url(#g2)" stroke="#14709a" stroke-opacity=".4" stroke-width=".7"/><rect x="-6.2" y="-16.8" width="12.3" height="34.0" rx="6.5" fill="url(#ge)"/></g>
<g transform="translate(616.0,478.0) rotate(110.1)"><rect x="-6.4" y="-18.7" width="12.8" height="36.5" rx="6.5" fill="url(#g4)" stroke="#14709a" stroke-opacity=".4" stroke-width=".7"/><rect x="-6.4" y="-18.7" width="12.8" height="36.5" rx="6.5" fill="url(#ge)"/></g>
<g transform="translate(612.7,487.9) rotate(115.1)"><rect x="-8.7" y="-18.9" width="17.5" height="36.7" rx="6.5" fill="url(#g3)" stroke="#14709a" stroke-opacity=".4" stroke-width=".7"/><rect x="-8.7" y="-18.9" width="17.5" height="36.7" rx="6.5" fill="url(#ge)"/></g>
<g transform="translate(606.7,500.9) rotate(124.7)"><rect x="-6.3" y="-20.8" width="12.6" height="36.8" rx="6.5" fill="url(#g4)" stroke="#14709a" stroke-opacity=".4" stroke-width=".7"/><rect x="-6.3" y="-20.8" width="12.6" height="36.8" rx="6.5" fill="url(#ge)"/></g>
<g transform="translate(601.8,509.0) rotate(124.1)"><rect x="-7.8" y="-21.5" width="15.7" height="38.4" rx="6.5" fill="url(#g4)" stroke="#14709a" stroke-opacity=".4" stroke-width=".7"/><rect x="-7.8" y="-21.5" width="15.7" height="38.4" rx="6.5" fill="url(#ge)"/></g>
<g transform="translate(594.2,519.0) rotate(135.7)"><rect x="-7.7" y="-19.8" width="15.4" height="37.4" rx="6.5" fill="url(#g4)" stroke="#14709a" stroke-opacity=".4" stroke-width=".7"/><rect x="-7.7" y="-19.8" width="15.4" height="37.4" rx="6.5" fill="url(#ge)"/></g>
<g transform="translate(585.8,527.9) rotate(130.2)"><rect x="-8.0" y="-19.9" width="16.0" height="36.0" rx="6.5" fill="url(#g2)" stroke="#14709a" stroke-opacity=".4" stroke-width=".7"/><rect x="-8.0" y="-19.9" width="16.0" height="36.0" rx="6.5" fill="url(#ge)"/></g>
<g transform="translate(575.9,536.1) rotate(134.9)"><rect x="-8.7" y="-18.4" width="17.3" height="34.5" rx="6.5" fill="url(#g4)" stroke="#14709a" stroke-opacity=".4" stroke-width=".7"/><rect x="-8.7" y="-18.4" width="17.3" height="34.5" rx="6.5" fill="url(#ge)"/></g>
<g transform="translate(563.5,544.1) rotate(155.7)"><rect x="-7.8" y="-15.8" width="15.7" height="34.0" rx="6.5" fill="url(#g4)" stroke="#14709a" stroke-opacity=".4" stroke-width=".7"/><rect x="-7.8" y="-15.8" width="15.7" height="34.0" rx="6.5" fill="url(#ge)"/></g>
<g transform="translate(551.8,549.6) rotate(157.4)"><rect x="-8.2" y="-15.7" width="16.5" height="34.8" rx="6.5" fill="url(#g5)" stroke="#14709a" stroke-opacity=".4" stroke-width=".7"/><rect x="-8.2" y="-15.7" width="16.5" height="34.8" rx="6.5" fill="url(#ge)"/></g>
<g transform="translate(538.2,554.2) rotate(169.5)"><rect x="-5.7" y="-16.2" width="11.4" height="34.4" rx="6.5" fill="url(#g3)" stroke="#14709a" stroke-opacity=".4" stroke-width=".7"/><rect x="-5.7" y="-16.2" width="11.4" height="34.4" rx="6.5" fill="url(#ge)"/></g>
<g transform="translate(529.5,556.1) rotate(174.5)"><rect x="-7.1" y="-15.6" width="14.3" height="35.0" rx="6.5" fill="url(#g4)" stroke="#14709a" stroke-opacity=".4" stroke-width=".7"/><rect x="-7.1" y="-15.6" width="14.3" height="35.0" rx="6.5" fill="url(#ge)"/></g>
<g transform="translate(517.8,557.6) rotate(178.2)"><rect x="-7.5" y="-17.9" width="14.9" height="37.8" rx="6.5" fill="url(#g4)" stroke="#14709a" stroke-opacity=".4" stroke-width=".7"/><rect x="-7.5" y="-17.9" width="14.9" height="37.8" rx="6.5" fill="url(#ge)"/></g>
<g transform="translate(505.2,558.0) rotate(-183.0)"><rect x="-6.7" y="-18.5" width="13.3" height="36.7" rx="6.5" fill="url(#g4)" stroke="#14709a" stroke-opacity=".4" stroke-width=".7"/><rect x="-6.7" y="-18.5" width="13.3" height="36.7" rx="6.5" fill="url(#ge)"/></g>
<g transform="translate(494.8,557.4) rotate(-179.1)"><rect x="-5.7" y="-17.8" width="11.5" height="36.9" rx="6.5" fill="url(#g3)" stroke="#14709a" stroke-opacity=".4" stroke-width=".7"/><rect x="-5.7" y="-17.8" width="11.5" height="36.9" rx="6.5" fill="url(#ge)"/></g>
<g transform="translate(485.7,556.4) rotate(-163.0)"><rect x="-6.9" y="-19.8" width="13.7" height="37.8" rx="6.5" fill="url(#g3)" stroke="#14709a" stroke-opacity=".4" stroke-width=".7"/><rect x="-6.9" y="-19.8" width="13.7" height="37.8" rx="6.5" fill="url(#ge)"/></g>
<g transform="translate(474.4,554.2) rotate(-167.5)"><rect x="-5.7" y="-19.2" width="11.3" height="38.3" rx="6.5" fill="url(#g2)" stroke="#14709a" stroke-opacity=".4" stroke-width=".7"/><rect x="-5.7" y="-19.2" width="11.3" height="38.3" rx="6.5" fill="url(#ge)"/></g>
<g transform="translate(466.1,551.9) rotate(-169.8)"><rect x="-7.2" y="-21.1" width="14.4" height="38.0" rx="6.5" fill="url(#g4)" stroke="#14709a" stroke-opacity=".4" stroke-width=".7"/><rect x="-7.2" y="-21.1" width="14.4" height="38.0" rx="6.5" fill="url(#ge)"/></g>
<g transform="translate(455.8,548.1) rotate(-156.5)"><rect x="-7.7" y="-17.8" width="15.3" height="33.8" rx="6.5" fill="url(#g1)" stroke="#14709a" stroke-opacity=".4" stroke-width=".7"/><rect x="-7.7" y="-17.8" width="15.3" height="33.8" rx="6.5" fill="url(#ge)"/></g>
<g transform="translate(445.1,542.8) rotate(-158.5)"><rect x="-7.7" y="-18.8" width="15.4" height="34.3" rx="6.5" fill="url(#g1)" stroke="#14709a" stroke-opacity=".4" stroke-width=".7"/><rect x="-7.7" y="-18.8" width="15.4" height="34.3" rx="6.5" fill="url(#ge)"/></g>
<g transform="translate(434.3,535.5) rotate(-143.5)"><rect x="-8.8" y="-18.1" width="17.7" height="34.6" rx="6.5" fill="url(#g3)" stroke="#14709a" stroke-opacity=".4" stroke-width=".7"/><rect x="-8.8" y="-18.1" width="17.7" height="34.6" rx="6.5" fill="url(#ge)"/></g>
<g transform="translate(423.5,525.5) rotate(-126.8)"><rect x="-6.9" y="-17.2" width="13.8" height="34.5" rx="6.5" fill="url(#g1)" stroke="#14709a" stroke-opacity=".4" stroke-width=".7"/><rect x="-6.9" y="-17.2" width="13.8" height="34.5" rx="6.5" fill="url(#ge)"/></g>
<g transform="translate(416.7,517.5) rotate(-132.1)"><rect x="-8.5" y="-16.5" width="16.9" height="34.2" rx="6.5" fill="url(#g1)" stroke="#14709a" stroke-opacity=".4" stroke-width=".7"/><rect x="-8.5" y="-16.5" width="16.9" height="34.2" rx="6.5" fill="url(#ge)"/></g>
<g transform="translate(408.5,505.3) rotate(-121.6)"><rect x="-7.3" y="-18.0" width="14.6" height="37.4" rx="6.5" fill="url(#g2)" stroke="#14709a" stroke-opacity=".4" stroke-width=".7"/><rect x="-7.3" y="-18.0" width="14.6" height="37.4" rx="6.5" fill="url(#ge)"/></g>
<g transform="translate(403.4,495.5) rotate(-112.3)"><rect x="-8.2" y="-17.1" width="16.5" height="37.7" rx="6.5" fill="url(#g1)" stroke="#14709a" stroke-opacity=".4" stroke-width=".7"/><rect x="-8.2" y="-17.1" width="16.5" height="37.7" rx="6.5" fill="url(#ge)"/></g>
<g transform="translate(398.4,482.5) rotate(-109.9)"><rect x="-6.3" y="-17.7" width="12.5" height="37.4" rx="6.5" fill="url(#g3)" stroke="#14709a" stroke-opacity=".4" stroke-width=".7"/><rect x="-6.3" y="-17.7" width="12.5" height="37.4" rx="6.5" fill="url(#ge)"/></g>
<g transform="translate(395.7,472.7) rotate(-94.6)"><rect x="-8.7" y="-15.7" width="17.5" height="36.1" rx="6.5" fill="url(#g4)" stroke="#14709a" stroke-opacity=".4" stroke-width=".7"/><rect x="-8.7" y="-15.7" width="17.5" height="36.1" rx="6.5" fill="url(#ge)"/></g>
<g transform="translate(393.5,458.6) rotate(-93.4)"><rect x="-6.0" y="-17.6" width="11.9" height="36.8" rx="6.5" fill="url(#g1)" stroke="#14709a" stroke-opacity=".4" stroke-width=".7"/><rect x="-6.0" y="-17.6" width="11.9" height="36.8" rx="6.5" fill="url(#ge)"/></g>
<g transform="translate(393.0,448.8) rotate(-97.2)"><rect x="-7.6" y="-15.9" width="15.1" height="34.6" rx="6.5" fill="url(#g3)" stroke="#14709a" stroke-opacity=".4" stroke-width=".7"/><rect x="-7.6" y="-15.9" width="15.1" height="34.6" rx="6.5" fill="url(#ge)"/></g>
<g transform="translate(393.8,436.2) rotate(-79.3)"><rect x="-6.8" y="-16.5" width="13.6" height="33.4" rx="6.5" fill="url(#g3)" stroke="#14709a" stroke-opacity=".4" stroke-width=".7"/><rect x="-6.8" y="-16.5" width="13.6" height="33.4" rx="6.5" fill="url(#ge)"/></g>
<g transform="translate(396.0,425.2) rotate(-80.7)"><rect x="-7.6" y="-17.9" width="15.2" height="33.6" rx="6.5" fill="url(#g1)" stroke="#14709a" stroke-opacity=".4" stroke-width=".7"/><rect x="-7.6" y="-17.9" width="15.2" height="33.6" rx="6.5" fill="url(#ge)"/></g>
<g transform="translate(400.2,413.2) rotate(-68.0)"><rect x="-5.9" y="-19.5" width="11.7" height="36.4" rx="6.5" fill="url(#g2)" stroke="#14709a" stroke-opacity=".4" stroke-width=".7"/><rect x="-5.9" y="-19.5" width="11.7" height="36.4" rx="6.5" fill="url(#ge)"/></g>
<g transform="translate(404.1,405.0) rotate(-69.6)"><rect x="-8.8" y="-20.3" width="17.7" height="36.3" rx="6.5" fill="url(#g2)" stroke="#14709a" stroke-opacity=".4" stroke-width=".7"/><rect x="-8.8" y="-20.3" width="17.7" height="36.3" rx="6.5" fill="url(#ge)"/></g>
<g transform="translate(411.8,392.3) rotate(-60.5)"><rect x="-7.3" y="-19.2" width="14.6" height="36.6" rx="6.5" fill="url(#g1)" stroke="#14709a" stroke-opacity=".4" stroke-width=".7"/><rect x="-7.3" y="-19.2" width="14.6" height="36.6" rx="6.5" fill="url(#ge)"/></g>
<g transform="translate(419.2,382.6) rotate(-52.6)"><rect x="-8.0" y="-19.4" width="16.0" height="36.8" rx="6.5" fill="url(#g2)" stroke="#14709a" stroke-opacity=".4" stroke-width=".7"/><rect x="-8.0" y="-19.4" width="16.0" height="36.8" rx="6.5" fill="url(#ge)"/></g>
<g transform="translate(428.1,372.6) rotate(-42.9)"><rect x="-8.1" y="-19.9" width="16.1" height="38.4" rx="6.5" fill="url(#g4)" stroke="#14709a" stroke-opacity=".4" stroke-width=".7"/><rect x="-8.1" y="-19.9" width="16.1" height="38.4" rx="6.5" fill="url(#ge)"/></g>
<g transform="translate(437.6,363.2) rotate(-48.1)"><rect x="-7.9" y="-18.2" width="15.9" height="36.1" rx="6.5" fill="url(#g3)" stroke="#14709a" stroke-opacity=".4" stroke-width=".7"/><rect x="-7.9" y="-18.2" width="15.9" height="36.1" rx="6.5" fill="url(#ge)"/></g>
<g transform="translate(446.9,354.8) rotate(-32.1)"><rect x="-7.7" y="-15.3" width="15.3" height="33.8" rx="6.5" fill="url(#g1)" stroke="#14709a" stroke-opacity=".4" stroke-width=".7"/><rect x="-7.7" y="-15.3" width="15.3" height="33.8" rx="6.5" fill="url(#ge)"/></g>
<g transform="translate(456.8,346.9) rotate(-34.7)"><rect x="-5.9" y="-16.2" width="11.8" height="35.2" rx="6.5" fill="url(#g1)" stroke="#14709a" stroke-opacity=".4" stroke-width=".7"/><rect x="-5.9" y="-16.2" width="11.8" height="35.2" rx="6.5" fill="url(#ge)"/></g>
<g transform="translate(464.0,341.9) rotate(-33.3)"><rect x="-6.2" y="-16.4" width="12.4" height="36.1" rx="6.5" fill="url(#g3)" stroke="#14709a" stroke-opacity=".4" stroke-width=".7"/><rect x="-6.2" y="-16.4" width="12.4" height="36.1" rx="6.5" fill="url(#ge)"/></g>
<g transform="translate(471.7,337.3) rotate(-25.4)"><rect x="-6.1" y="-15.6" width="12.3" height="34.3" rx="6.5" fill="url(#g5)" stroke="#14709a" stroke-opacity=".4" stroke-width=".7"/><rect x="-6.1" y="-15.6" width="12.3" height="34.3" rx="6.5" fill="url(#ge)"/></g>
<g transform="translate(480.8,332.9) rotate(-22.7)"><rect x="-8.1" y="-16.4" width="16.2" height="35.2" rx="6.5" fill="url(#g1)" stroke="#14709a" stroke-opacity=".4" stroke-width=".7"/><rect x="-8.1" y="-16.4" width="16.2" height="35.2" rx="6.5" fill="url(#ge)"/></g>
<g transform="translate(493.2,328.4) rotate(-12.4)"><rect x="-5.3" y="-18.1" width="10.7" height="35.7" rx="6.5" fill="url(#g1)" stroke="#14709a" stroke-opacity=".4" stroke-width=".7"/><rect x="-5.3" y="-18.1" width="10.7" height="35.7" rx="6.5" fill="url(#ge)"/></g>
<g transform="translate(501.5,326.3) rotate(-18.3)"><rect x="-7.7" y="-17.8" width="15.4" height="37.2" rx="6.5" fill="url(#g2)" stroke="#14709a" stroke-opacity=".4" stroke-width=".7"/><rect x="-7.7" y="-17.8" width="15.4" height="37.2" rx="6.5" fill="url(#ge)"/></g>
<g transform="translate(513.9,324.8) rotate(-1.4)"><rect x="-7.4" y="-20.2" width="14.8" height="38.3" rx="6.5" fill="url(#g1)" stroke="#14709a" stroke-opacity=".4" stroke-width=".7"/><rect x="-7.4" y="-20.2" width="14.8" height="38.3" rx="6.5" fill="url(#ge)"/></g>
<g transform="translate(525.8,324.6) rotate(6.9)"><rect x="-7.7" y="-19.8" width="15.5" height="36.6" rx="6.5" fill="url(#g1)" stroke="#14709a" stroke-opacity=".4" stroke-width=".7"/><rect x="-7.7" y="-19.8" width="15.5" height="36.6" rx="6.5" fill="url(#ge)"/></g>
<g transform="translate(537.8,325.1) rotate(8.1)"><rect x="-7.0" y="-18.4" width="13.9" height="35.7" rx="6.5" fill="url(#g2)" stroke="#14709a" stroke-opacity=".4" stroke-width=".7"/><rect x="-7.0" y="-18.4" width="13.9" height="35.7" rx="6.5" fill="url(#ge)"/></g>
<g transform="translate(549.3,326.4) rotate(1.0)"><rect x="-5.6" y="-20.1" width="11.2" height="37.6" rx="6.5" fill="url(#g1)" stroke="#14709a" stroke-opacity=".4" stroke-width=".7"/><rect x="-5.6" y="-20.1" width="11.2" height="37.6" rx="6.5" fill="url(#ge)"/></g>
<g transform="translate(558.0,328.0) rotate(9.1)"><rect x="-8.1" y="-20.2" width="16.2" height="35.5" rx="6.5" fill="url(#g3)" stroke="#14709a" stroke-opacity=".4" stroke-width=".7"/><rect x="-8.1" y="-20.2" width="16.2" height="35.5" rx="6.5" fill="url(#ge)"/></g>
<g transform="translate(570.4,331.3) rotate(24.0)"><rect x="-6.7" y="-17.8" width="13.4" height="32.7" rx="6.5" fill="url(#g1)" stroke="#14709a" stroke-opacity=".4" stroke-width=".7"/><rect x="-6.7" y="-17.8" width="13.4" height="32.7" rx="6.5" fill="url(#ge)"/></g>
<g transform="translate(580.6,335.0) rotate(18.2)"><rect x="-6.6" y="-16.3" width="13.3" height="32.8" rx="6.5" fill="url(#g1)" stroke="#14709a" stroke-opacity=".4" stroke-width=".7"/><rect x="-6.6" y="-16.3" width="13.3" height="32.8" rx="6.5" fill="url(#ge)"/></g>
<g transform="translate(589.5,339.3) rotate(30.1)"><rect x="-6.8" y="-16.5" width="13.6" height="33.8" rx="6.5" fill="url(#g1)" stroke="#14709a" stroke-opacity=".4" stroke-width=".7"/><rect x="-6.8" y="-16.5" width="13.6" height="33.8" rx="6.5" fill="url(#ge)"/></g>
<g transform="translate(598.2,344.5) rotate(41.4)"><rect x="-7.5" y="-16.7" width="15.0" height="35.2" rx="6.5" fill="url(#g1)" stroke="#14709a" stroke-opacity=".4" stroke-width=".7"/><rect x="-7.5" y="-16.7" width="15.0" height="35.2" rx="6.5" fill="url(#ge)"/></g>
<g transform="translate(607.5,351.6) rotate(32.2)"><rect x="-6.7" y="-17.4" width="13.3" height="35.5" rx="6.5" fill="url(#g3)" stroke="#14709a" stroke-opacity=".4" stroke-width=".7"/><rect x="-6.7" y="-17.4" width="13.3" height="35.5" rx="6.5" fill="url(#ge)"/></g>
<g transform="translate(614.9,358.2) rotate(36.8)"><rect x="-7.2" y="-17.1" width="14.5" height="35.8" rx="6.5" fill="url(#g1)" stroke="#14709a" stroke-opacity=".4" stroke-width=".7"/><rect x="-7.2" y="-17.1" width="14.5" height="35.8" rx="6.5" fill="url(#ge)"/></g>
<g transform="translate(622.7,366.5) rotate(40.8)"><rect x="-6.5" y="-17.2" width="12.9" height="38.6" rx="6.5" fill="url(#g4)" stroke="#14709a" stroke-opacity=".4" stroke-width=".7"/><rect x="-6.5" y="-17.2" width="12.9" height="38.6" rx="6.5" fill="url(#ge)"/></g>
<g transform="translate(629.3,374.9) rotate(46.9)"><rect x="-8.2" y="-18.6" width="16.5" height="39.8" rx="6.5" fill="url(#g1)" stroke="#14709a" stroke-opacity=".4" stroke-width=".7"/><rect x="-8.2" y="-18.6" width="16.5" height="39.8" rx="6.5" fill="url(#ge)"/></g>
<g transform="translate(636.5,385.9) rotate(68.1)"><rect x="-6.4" y="-18.9" width="12.8" height="38.1" rx="6.5" fill="url(#g1)" stroke="#14709a" stroke-opacity=".4" stroke-width=".7"/><rect x="-6.4" y="-18.9" width="12.8" height="38.1" rx="6.5" fill="url(#ge)"/></g>
<g transform="translate(641.3,395.0) rotate(56.9)"><rect x="-7.1" y="-16.3" width="14.1" height="34.6" rx="6.5" fill="url(#g4)" stroke="#14709a" stroke-opacity=".4" stroke-width=".7"/><rect x="-7.1" y="-16.3" width="14.1" height="34.6" rx="6.5" fill="url(#ge)"/></g>
<g transform="translate(645.7,405.1) rotate(66.7)"><rect x="-7.1" y="-18.8" width="14.1" height="35.8" rx="6.5" fill="url(#g3)" stroke="#14709a" stroke-opacity=".4" stroke-width=".7"/><rect x="-7.1" y="-18.8" width="14.1" height="35.8" rx="6.5" fill="url(#ge)"/></g>
<g transform="translate(649.3,416.1) rotate(66.0)"><rect x="-5.7" y="-18.4" width="11.3" height="36.1" rx="6.5" fill="url(#g1)" stroke="#14709a" stroke-opacity=".4" stroke-width=".7"/><rect x="-5.7" y="-18.4" width="11.3" height="36.1" rx="6.5" fill="url(#ge)"/></g>
<g transform="translate(651.4,424.5) rotate(70.3)"><rect x="-7.4" y="-18.8" width="14.7" height="33.8" rx="6.5" fill="url(#g4)" stroke="#14709a" stroke-opacity=".4" stroke-width=".7"/><rect x="-7.4" y="-18.8" width="14.7" height="33.8" rx="6.5" fill="url(#ge)"/></g>
<g transform="translate(653.2,435.9) rotate(79.1)"><rect x="-6.6" y="-18.8" width="13.1" height="34.9" rx="6.5" fill="url(#g4)" stroke="#14709a" stroke-opacity=".4" stroke-width=".7"/><rect x="-6.6" y="-18.8" width="13.1" height="34.9" rx="6.5" fill="url(#ge)"/></g>
<g transform="translate(654.0,446.6) rotate(89.9)"><rect x="-8.2" y="-18.2" width="16.4" height="34.2" rx="6.5" fill="url(#g5)" stroke="#14709a" stroke-opacity=".4" stroke-width=".7"/><rect x="-8.2" y="-18.2" width="16.4" height="34.2" rx="6.5" fill="url(#ge)"/></g>
<g transform="translate(653.8,459.5) rotate(93.0)"><rect x="-8.0" y="-19.9" width="16.0" height="36.3" rx="6.5" fill="url(#g3)" stroke="#14709a" stroke-opacity=".4" stroke-width=".7"/><rect x="-8.0" y="-19.9" width="16.0" height="36.3" rx="6.5" fill="url(#ge)"/></g>
<g transform="translate(652.5,472.1) rotate(98.3)"><rect x="-8.6" y="-19.4" width="17.3" height="37.3" rx="6.5" fill="url(#g3)" stroke="#14709a" stroke-opacity=".4" stroke-width=".7"/><rect x="-8.6" y="-19.4" width="17.3" height="37.3" rx="6.5" fill="url(#ge)"/></g>
<g transform="translate(649.6,486.5) rotate(109.2)"><rect x="-6.4" y="-17.8" width="12.9" height="37.3" rx="6.5" fill="url(#g4)" stroke="#14709a" stroke-opacity=".4" stroke-width=".7"/><rect x="-6.4" y="-17.8" width="12.9" height="37.3" rx="6.5" fill="url(#ge)"/></g>
<g transform="translate(646.9,495.8) rotate(110.0)"><rect x="-6.7" y="-17.2" width="13.3" height="37.1" rx="6.5" fill="url(#g4)" stroke="#14709a" stroke-opacity=".4" stroke-width=".7"/><rect x="-6.7" y="-17.2" width="13.3" height="37.1" rx="6.5" fill="url(#ge)"/></g>
<g transform="translate(643.4,505.2) rotate(104.0)"><rect x="-6.5" y="-18.1" width="12.9" height="36.9" rx="6.5" fill="url(#g4)" stroke="#14709a" stroke-opacity=".4" stroke-width=".7"/><rect x="-6.5" y="-18.1" width="12.9" height="36.9" rx="6.5" fill="url(#ge)"/></g>
<g transform="translate(639.4,514.1) rotate(108.6)"><rect x="-7.1" y="-17.3" width="14.3" height="36.0" rx="6.5" fill="url(#g4)" stroke="#14709a" stroke-opacity=".4" stroke-width=".7"/><rect x="-7.1" y="-17.3" width="14.3" height="36.0" rx="6.5" fill="url(#ge)"/></g>
<g transform="translate(633.6,524.7) rotate(120.3)"><rect x="-5.6" y="-17.7" width="11.2" height="36.5" rx="6.5" fill="url(#g1)" stroke="#14709a" stroke-opacity=".4" stroke-width=".7"/><rect x="-5.6" y="-17.7" width="11.2" height="36.5" rx="6.5" fill="url(#ge)"/></g>
<g transform="translate(628.6,532.2) rotate(125.7)"><rect x="-6.0" y="-19.5" width="12.1" height="37.7" rx="6.5" fill="url(#g5)" stroke="#14709a" stroke-opacity=".4" stroke-width=".7"/><rect x="-6.0" y="-19.5" width="12.1" height="37.7" rx="6.5" fill="url(#ge)"/></g>
<g transform="translate(623.0,539.7) rotate(130.2)"><rect x="-7.5" y="-19.3" width="15.0" height="37.5" rx="6.5" fill="url(#g2)" stroke="#14709a" stroke-opacity=".4" stroke-width=".7"/><rect x="-7.5" y="-19.3" width="15.0" height="37.5" rx="6.5" fill="url(#ge)"/></g>
<g transform="translate(614.5,549.3) rotate(129.6)"><rect x="-6.3" y="-19.0" width="12.5" height="36.3" rx="6.5" fill="url(#g2)" stroke="#14709a" stroke-opacity=".4" stroke-width=".7"/><rect x="-6.3" y="-19.0" width="12.5" height="36.3" rx="6.5" fill="url(#ge)"/></g>
<g transform="translate(607.2,556.3) rotate(147.1)"><rect x="-8.6" y="-18.3" width="17.1" height="36.0" rx="6.5" fill="url(#g4)" stroke="#14709a" stroke-opacity=".4" stroke-width=".7"/><rect x="-8.6" y="-18.3" width="17.1" height="36.0" rx="6.5" fill="url(#ge)"/></g>
<g transform="translate(596.1,565.3) rotate(135.5)"><rect x="-7.4" y="-17.7" width="14.9" height="35.3" rx="6.5" fill="url(#g1)" stroke="#14709a" stroke-opacity=".4" stroke-width=".7"/><rect x="-7.4" y="-17.7" width="14.9" height="35.3" rx="6.5" fill="url(#ge)"/></g>
<g transform="translate(586.2,571.9) rotate(140.2)"><rect x="-7.4" y="-17.7" width="14.8" height="37.5" rx="6.5" fill="url(#g2)" stroke="#14709a" stroke-opacity=".4" stroke-width=".7"/><rect x="-7.4" y="-17.7" width="14.8" height="37.5" rx="6.5" fill="url(#ge)"/></g>
<g transform="translate(576.1,577.6) rotate(147.5)"><rect x="-6.0" y="-17.5" width="12.1" height="36.8" rx="6.5" fill="url(#g1)" stroke="#14709a" stroke-opacity=".4" stroke-width=".7"/><rect x="-6.0" y="-17.5" width="12.1" height="36.8" rx="6.5" fill="url(#ge)"/></g>
<g transform="translate(567.0,581.8) rotate(161.9)"><rect x="-7.1" y="-18.8" width="14.2" height="36.3" rx="6.5" fill="url(#g1)" stroke="#14709a" stroke-opacity=".4" stroke-width=".7"/><rect x="-7.1" y="-18.8" width="14.2" height="36.3" rx="6.5" fill="url(#ge)"/></g>
<g transform="translate(556.8,585.7) rotate(158.8)"><rect x="-6.0" y="-19.2" width="12.1" height="36.9" rx="6.5" fill="url(#g1)" stroke="#14709a" stroke-opacity=".4" stroke-width=".7"/><rect x="-6.0" y="-19.2" width="12.1" height="36.9" rx="6.5" fill="url(#ge)"/></g>
<g transform="translate(548.1,588.4) rotate(172.2)"><rect x="-6.1" y="-17.0" width="12.3" height="35.1" rx="6.5" fill="url(#g5)" stroke="#14709a" stroke-opacity=".4" stroke-width=".7"/><rect x="-6.1" y="-17.0" width="12.3" height="35.1" rx="6.5" fill="url(#ge)"/></g>
<g transform="translate(539.5,590.5) rotate(164.9)"><rect x="-5.5" y="-19.3" width="11.1" height="37.0" rx="6.5" fill="url(#g1)" stroke="#14709a" stroke-opacity=".4" stroke-width=".7"/><rect x="-5.5" y="-19.3" width="11.1" height="37.0" rx="6.5" fill="url(#ge)"/></g>
<g transform="translate(531.1,592.0) rotate(177.0)"><rect x="-5.7" y="-18.5" width="11.4" height="36.5" rx="6.5" fill="url(#g4)" stroke="#14709a" stroke-opacity=".4" stroke-width=".7"/><rect x="-5.7" y="-18.5" width="11.4" height="36.5" rx="6.5" fill="url(#ge)"/></g>
<g transform="translate(522.4,593.0) rotate(178.6)"><rect x="-7.5" y="-18.5" width="15.0" height="35.3" rx="6.5" fill="url(#g3)" stroke="#14709a" stroke-opacity=".4" stroke-width=".7"/><rect x="-7.5" y="-18.5" width="15.0" height="35.3" rx="6.5" fill="url(#ge)"/></g>
<g transform="translate(510.4,593.5) rotate(184.3)"><rect x="-9.0" y="-19.3" width="17.9" height="36.3" rx="6.5" fill="url(#g2)" stroke="#14709a" stroke-opacity=".4" stroke-width=".7"/><rect x="-9.0" y="-19.3" width="17.9" height="36.3" rx="6.5" fill="url(#ge)"/></g>
<g transform="translate(495.4,593.5) rotate(182.6)"><rect x="-6.6" y="-17.9" width="13.2" height="37.3" rx="6.5" fill="url(#g3)" stroke="#14709a" stroke-opacity=".4" stroke-width=".7"/><rect x="-6.6" y="-17.9" width="13.2" height="37.3" rx="6.5" fill="url(#ge)"/></g>
<g transform="translate(484.2,593.5) rotate(178.6)"><rect x="-7.8" y="-16.5" width="15.5" height="35.0" rx="6.5" fill="url(#g5)" stroke="#14709a" stroke-opacity=".4" stroke-width=".7"/><rect x="-7.8" y="-16.5" width="15.5" height="35.0" rx="6.5" fill="url(#ge)"/></g>
<g transform="translate(471.0,593.5) rotate(173.3)"><rect x="-6.0" y="-17.3" width="12.0" height="36.1" rx="6.5" fill="url(#g1)" stroke="#14709a" stroke-opacity=".4" stroke-width=".7"/><rect x="-6.0" y="-17.3" width="12.0" height="36.1" rx="6.5" fill="url(#ge)"/></g>
<g transform="translate(461.9,593.5) rotate(182.2)"><rect x="-7.5" y="-19.9" width="15.0" height="37.7" rx="6.5" fill="url(#g2)" stroke="#14709a" stroke-opacity=".4" stroke-width=".7"/><rect x="-7.5" y="-19.9" width="15.0" height="37.7" rx="6.5" fill="url(#ge)"/></g>
<g transform="translate(449.8,593.4) rotate(-184.4)"><rect x="-7.8" y="-18.9" width="15.5" height="36.0" rx="6.5" fill="url(#g1)" stroke="#14709a" stroke-opacity=".4" stroke-width=".7"/><rect x="-7.8" y="-18.9" width="15.5" height="36.0" rx="6.5" fill="url(#ge)"/></g>
<g transform="translate(436.6,592.8) rotate(-182.5)"><rect x="-6.0" y="-17.5" width="11.9" height="37.4" rx="6.5" fill="url(#g1)" stroke="#14709a" stroke-opacity=".4" stroke-width=".7"/><rect x="-6.0" y="-17.5" width="11.9" height="37.4" rx="6.5" fill="url(#ge)"/></g>
<g transform="translate(427.4,592.3) rotate(-174.5)"><rect x="-8.0" y="-19.4" width="16.0" height="37.7" rx="6.5" fill="url(#g4)" stroke="#14709a" stroke-opacity=".4" stroke-width=".7"/><rect x="-8.0" y="-19.4" width="16.0" height="37.7" rx="6.5" fill="url(#ge)"/></g>
<g transform="translate(413.5,591.4) rotate(-182.2)"><rect x="-7.2" y="-17.6" width="14.4" height="36.9" rx="6.5" fill="url(#g5)" stroke="#14709a" stroke-opacity=".4" stroke-width=".7"/><rect x="-7.2" y="-17.6" width="14.4" height="36.9" rx="6.5" fill="url(#ge)"/></g>
<g transform="translate(402.5,590.7) rotate(-176.8)"><rect x="-8.5" y="-19.2" width="17.0" height="36.8" rx="6.5" fill="url(#g4)" stroke="#14709a" stroke-opacity=".4" stroke-width=".7"/><rect x="-8.5" y="-19.2" width="17.0" height="36.8" rx="6.5" fill="url(#ge)"/></g>
<g transform="translate(388.4,589.7) rotate(-182.2)"><rect x="-6.3" y="-18.6" width="12.5" height="36.6" rx="6.5" fill="url(#g1)" stroke="#14709a" stroke-opacity=".4" stroke-width=".7"/><rect x="-6.3" y="-18.6" width="12.5" height="36.6" rx="6.5" fill="url(#ge)"/></g>
<g transform="translate(378.5,588.8) rotate(-168.8)"><rect x="-9.0" y="-16.8" width="18.0" height="35.6" rx="6.5" fill="url(#g4)" stroke="#14709a" stroke-opacity=".4" stroke-width=".7"/><rect x="-9.0" y="-16.8" width="18.0" height="35.6" rx="6.5" fill="url(#ge)"/></g>
<g transform="translate(363.8,587.5) rotate(-173.9)"><rect x="-6.0" y="-17.4" width="12.0" height="35.4" rx="6.5" fill="url(#g4)" stroke="#14709a" stroke-opacity=".4" stroke-width=".7"/><rect x="-6.0" y="-17.4" width="12.0" height="35.4" rx="6.5" fill="url(#ge)"/></g>
<g transform="translate(355.1,586.7) rotate(-177.0)"><rect x="-8.3" y="-18.6" width="16.5" height="35.9" rx="6.5" fill="url(#g2)" stroke="#14709a" stroke-opacity=".4" stroke-width=".7"/><rect x="-8.3" y="-18.6" width="16.5" height="35.9" rx="6.5" fill="url(#ge)"/></g>
<g transform="translate(341.6,585.6) rotate(-176.0)"><rect x="-7.0" y="-17.2" width="14.1" height="35.1" rx="6.5" fill="url(#g1)" stroke="#14709a" stroke-opacity=".4" stroke-width=".7"/><rect x="-7.0" y="-17.2" width="14.1" height="35.1" rx="6.5" fill="url(#ge)"/></g>
<g transform="translate(330.2,584.8) rotate(-170.4)"><rect x="-7.2" y="-17.9" width="14.3" height="37.5" rx="6.5" fill="url(#g3)" stroke="#14709a" stroke-opacity=".4" stroke-width=".7"/><rect x="-7.2" y="-17.9" width="14.3" height="37.5" rx="6.5" fill="url(#ge)"/></g>
<g transform="translate(318.8,584.0) rotate(-177.1)"><rect x="-5.7" y="-19.2" width="11.4" height="36.3" rx="6.5" fill="url(#g4)" stroke="#14709a" stroke-opacity=".4" stroke-width=".7"/><rect x="-5.7" y="-19.2" width="11.4" height="36.3" rx="6.5" fill="url(#ge)"/></g>
<g transform="translate(309.6,583.4) rotate(-179.7)"><rect x="-7.4" y="-16.6" width="14.8" height="35.4" rx="6.5" fill="url(#g4)" stroke="#14709a" stroke-opacity=".4" stroke-width=".7"/><rect x="-7.4" y="-16.6" width="14.8" height="35.4" rx="6.5" fill="url(#ge)"/></g>
<g transform="translate(296.9,582.6) rotate(-168.8)"><rect x="-7.0" y="-18.6" width="13.9" height="36.5" rx="6.5" fill="url(#g1)" stroke="#14709a" stroke-opacity=".4" stroke-width=".7"/><rect x="-7.0" y="-18.6" width="13.9" height="36.5" rx="6.5" fill="url(#ge)"/></g>
<g transform="translate(285.1,582.1) rotate(-184.7)"><rect x="-5.4" y="-17.9" width="10.8" height="36.8" rx="6.5" fill="url(#g1)" stroke="#14709a" stroke-opacity=".4" stroke-width=".7"/><rect x="-5.4" y="-17.9" width="10.8" height="36.8" rx="6.5" fill="url(#ge)"/></g>
<g transform="translate(276.4,581.8) rotate(-184.3)"><rect x="-8.8" y="-17.9" width="17.6" height="37.9" rx="6.5" fill="url(#g5)" stroke="#14709a" stroke-opacity=".4" stroke-width=".7"/><rect x="-8.8" y="-17.9" width="17.6" height="37.9" rx="6.5" fill="url(#ge)"/></g>
<polyline points="560.1,412.8 560.6,416.0 561.1,419.3 561.3,422.5 561.4,425.8 561.3,429.0 561.2,432.2 560.9,435.3 560.6,438.3 560.4,441.3 560.1,444.1 560.0,447.1 559.7,450.4 559.1,453.7 558.4,457.0 557.5,460.2 556.4,463.3 555.1,466.4 553.6,469.4 551.9,472.3 550.0,475.1 548.0,477.7 545.8,480.2 543.4,482.6 540.9,484.8 538.3,486.9 535.5,488.8 532.7,490.5 529.7,492.0 526.6,493.4 523.4,494.5 520.2,495.4 516.9,496.2 513.6,496.7 510.3,496.9 507.0,497.0 503.7,496.9 500.4,496.7 497.1,496.2 493.9,495.6 490.6,494.7 487.4,493.7 484.3,492.4 481.3,490.9 478.3,489.1 475.5,487.1 472.9,484.9 470.4,482.5 468.1,479.9 466.1,477.2 464.3,474.3 462.7,471.2 461.4,468.1 460.2,464.9 459.3,461.7 458.7,458.4 458.2,455.1 458.0,451.7 457.9,448.4 458.1,445.1 458.4,441.7 459.1,438.3 460.0,435.1 461.1,431.9 462.4,428.8 463.9,425.8 465.5,422.9 467.4,420.1 469.3,417.5 471.4,415.0 473.7,412.6 476.0,410.3 478.4,408.1 480.8,406.0 483.4,404.1 486.1,402.2 488.9,400.5 491.7,398.9 494.7,397.5 497.7,396.2 500.8,395.0 503.9,394.0 507.1,393.2 509.6,392.6 512.3,391.7 515.1,390.7 518.1,389.7 521.3,388.8 524.5,388.1 527.4,387.6 530.4,387.0 533.5,386.4 536.7,385.9 540.0,385.6 543.3,385.5 546.7,385.6 550.2,385.9 553.6,386.6 557.1,387.7 560.4,389.2 563.5,391.0 566.2,392.9 568.8,394.9 571.2,397.0 573.6,399.2 575.9,401.6 578.0,404.0 580.1,406.6 582.0,409.3 583.7,412.0 585.4,414.8 586.9,417.7 588.3,420.7 589.5,423.7 590.5,426.8 591.4,430.0 592.2,433.2 592.8,436.4 593.2,439.7 593.4,442.9 593.5,446.2 593.4,449.5 593.2,452.7 592.8,455.9 592.3,459.1 591.6,462.3 590.8,465.4 589.9,468.5 588.9,471.6 587.7,474.6 586.4,477.5 585.0,480.4 583.5,483.3 581.9,486.0 580.2,488.7 578.5,491.4 576.6,494.0 574.6,496.5 572.6,498.9 570.5,501.3 568.3,503.6 566.0,505.8 563.7,508.0 561.3,510.1 558.8,512.1 556.2,514.0 553.6,515.8 550.9,517.5 548.1,519.1 545.3,520.6 542.4,522.0 539.5,523.3 536.5,524.5 533.5,525.6 530.4,526.6 527.3,527.4 524.2,528.1 521.0,528.8 517.9,529.3 514.7,529.6 511.5,529.9 508.3,530.0 505.2,530.1 502.0,530.0 498.9,529.9 495.7,529.7 492.6,529.3 489.4,528.9 486.3,528.4 483.1,527.8 480.0,527.0 476.9,526.1 473.9,525.2 470.8,524.0 467.9,522.8 464.9,521.5 462.1,520.0 459.2,518.4 456.5,516.6 453.8,514.7 451.3,512.7 448.8,510.6 446.4,508.3 444.2,506.0 442.0,503.6 440.0,501.1 438.1,498.5 436.3,495.8 434.5,493.1 432.9,490.3 431.5,487.4 430.1,484.5 428.8,481.6 427.7,478.6 426.7,475.5 425.8,472.4 425.0,469.3 424.4,466.2 423.8,463.0 423.4,459.8 423.1,456.6 422.9,453.4 422.9,450.2 422.9,447.0 423.1,443.8 423.5,440.5 424.0,437.3 424.7,434.1 425.5,430.9 426.5,427.8 427.6,424.8 428.9,421.8 430.2,418.9 431.7,416.0 433.3,413.2 434.9,410.5 436.7,407.8 438.5,405.2 440.4,402.7 442.4,400.3 444.4,397.8 446.4,395.5 448.6,393.2 450.7,391.0 452.9,388.8 455.1,386.6 457.3,384.5 459.5,382.4 461.9,380.3 464.2,378.3 466.6,376.3 469.1,374.4 471.6,372.5 474.1,370.7 476.8,368.9 479.5,367.2 482.2,365.6 485.0,364.1 487.8,362.7 490.8,361.4 493.7,360.1 496.7,359.0 499.8,358.0 502.8,357.1 506.0,356.4 509.1,355.7 512.1,355.2 515.1,354.6 518.2,354.2 521.4,353.8 524.6,353.5 527.6,353.3 530.8,353.2 533.9,353.1 537.0,353.1 540.2,353.2 543.3,353.3 546.5,353.6 549.6,354.0 552.8,354.4 555.9,355.0 559.0,355.7 562.2,356.5 565.2,357.5 568.3,358.5 571.3,359.7 574.3,361.1 577.2,362.6 580.0,364.2 582.7,366.0 585.4,367.9 587.9,369.9 590.3,371.9 592.7,374.0 595.0,376.2 597.2,378.4 599.4,380.8 601.5,383.1 603.5,385.6 605.4,388.1 607.3,390.7 609.1,393.3 610.8,396.0 612.4,398.7 613.9,401.5 615.3,404.3 616.7,407.2 617.9,410.1 619.1,413.1 620.2,416.0 621.2,419.1 622.0,422.1 622.8,425.2 623.5,428.3 624.1,431.4 624.6,434.5 625.0,437.7 625.3,440.9 625.4,444.0 625.5,447.2 625.5,450.3 625.4,453.5 625.2,456.6 625.0,459.8 624.6,462.9 624.2,466.0 623.7,469.1 623.1,472.2 622.4,475.3 621.6,478.4 620.7,481.4 619.8,484.4 618.8,487.4 617.7,490.3 616.5,493.3 615.2,496.1 613.9,499.0 612.4,501.8 610.9,504.6 609.4,507.3 607.7,510.0 606.0,512.6 604.2,515.2 602.3,517.7 600.4,520.2 598.4,522.7 596.3,525.0 594.1,527.3 591.9,529.6 589.7,531.8 587.3,533.9 585.0,536.0 582.5,538.0 580.0,539.9 577.5,541.8 574.9,543.6 572.3,545.3 569.6,546.9 566.9,548.5 564.1,550.0 561.3,551.4 558.4,552.8 555.6,554.0 552.6,555.2 549.7,556.3 546.7,557.4 543.7,558.3 540.7,559.2 537.7,560.0 534.6,560.7 531.5,561.3 528.4,561.9 525.3,562.4 522.2,562.8 519.1,563.1 515.9,563.3 512.8,563.4 509.7,563.5 506.5,563.5 503.5,563.4 500.4,563.3 497.3,563.1 494.2,562.9 491.1,562.6 488.0,562.3 484.9,561.8 481.8,561.3 478.7,560.8 475.7,560.2 472.6,559.5 469.6,558.7 466.6,557.8 463.6,556.9 460.6,555.9 457.6,554.8 454.7,553.6 451.8,552.4 448.9,551.0 446.1,549.6 443.3,548.1 440.6,546.5 437.9,544.8 435.3,543.0 432.7,541.2 430.2,539.2 427.7,537.2 425.3,535.1 423.0,532.9 420.8,530.6 418.6,528.3 416.6,526.0 414.5,523.6 412.6,521.1 410.7,518.6 408.8,516.0 407.1,513.4 405.4,510.8 403.8,508.1 402.2,505.4 400.8,502.6 399.4,499.8 398.0,496.9 396.8,494.0 395.6,491.1 394.5,488.2 393.5,485.2 392.5,482.2 391.7,479.2 390.9,476.1 390.2,473.1 389.6,470.0 389.0,466.9 388.6,463.8 388.2,460.7 387.9,457.5 387.7,454.4 387.5,451.2 387.5,448.1 387.5,444.9 387.7,441.7 387.9,438.5 388.3,435.4 388.8,432.2 389.4,429.1 390.1,426.0 391.0,422.9 391.9,419.8 392.9,416.8 394.0,413.9 395.2,410.9 396.4,408.0 397.8,405.2 399.2,402.4 400.7,399.6 402.3,396.9 403.9,394.2 405.6,391.6 407.4,389.0 409.2,386.5 411.1,384.0 413.0,381.5 414.9,379.1 416.9,376.7 419.0,374.4 421.0,372.1 423.1,369.9 425.3,367.6 427.4,365.5 429.6,363.3 431.8,361.2 434.0,359.1 436.2,357.0 438.5,354.9 440.7,352.8 443.1,350.8 445.4,348.8 447.8,346.9 450.2,344.9 452.7,343.1 455.2,341.2 457.8,339.4 460.4,337.7 463.0,336.0 465.7,334.4 468.4,332.9 471.2,331.4 474.0,330.0 476.8,328.6 479.7,327.3 482.6,326.2 485.6,325.0 488.6,324.0 491.6,323.1 494.7,322.2 497.8,321.5 500.9,320.9 504.0,320.3 507.1,319.9 510.3,319.5 513.5,319.3 516.6,319.1 519.7,319.1 522.8,319.1 525.9,319.1 528.9,319.1 532.0,319.3 535.1,319.4 538.2,319.6 541.3,319.9 544.4,320.2 547.5,320.6 550.5,321.0 553.6,321.5 556.7,322.1 559.7,322.7 562.8,323.4 565.8,324.2 568.8,325.0 571.8,325.9 574.8,326.9 577.7,328.0 580.7,329.1 583.6,330.3 586.4,331.6 589.3,333.0 592.1,334.4 594.8,336.0 597.6,337.6 600.2,339.3 602.9,341.0 605.4,342.9 607.9,344.8 610.4,346.8 612.8,348.8 615.1,350.9 617.4,353.0 619.6,355.2 621.8,357.4 624.0,359.7 626.0,362.0 628.1,364.4 630.0,366.8 632.0,369.3 633.8,371.8 635.6,374.3 637.4,376.9 639.1,379.5 640.7,382.2 642.3,384.9 643.8,387.7 645.2,390.4 646.6,393.2 647.9,396.1 649.1,399.0 650.3,401.9 651.4,404.8 652.5,407.7 653.5,410.7 654.4,413.7 655.2,416.7 656.0,419.7 656.6,422.8 657.3,425.9 657.8,428.9 658.3,432.0 658.7,435.1 659.0,438.3 659.3,441.4 659.4,444.5 659.5,447.6 659.6,450.7 659.6,453.9 659.5,457.0 659.3,460.1 659.1,463.2 658.8,466.3 658.5,469.4 658.0,472.5 657.6,475.6 657.0,478.6 656.4,481.7 655.7,484.7 655.0,487.7 654.2,490.8 653.3,493.8 652.4,496.7 651.4,499.7 650.4,502.6 649.2,505.5 648.1,508.4 646.8,511.3 645.5,514.1 644.2,516.9 642.7,519.7 641.3,522.4 639.7,525.1 638.1,527.8 636.5,530.5 634.8,533.1 633.0,535.6 631.2,538.2 629.3,540.7 627.3,543.1 625.4,545.5 623.3,547.9 621.2,550.2 619.1,552.5 616.9,554.7 614.7,556.9 612.4,559.0 610.1,561.1 607.7,563.1 605.3,565.1 602.9,567.0 600.4,568.9 597.9,570.7 595.4,572.5 592.8,574.2 590.2,575.9 587.5,577.5 584.8,579.1 582.1,580.6 579.3,582.1 576.6,583.5 573.8,584.8 570.9,586.1 568.1,587.3 565.2,588.5 562.3,589.6 559.3,590.7 556.4,591.7 553.4,592.6 550.4,593.5 547.4,594.3 544.4,595.0 541.4,595.7 538.3,596.3 535.2,596.9 532.2,597.3 529.1,597.8 526.0,598.1 522.9,598.4 519.8,598.7 516.7,598.9 513.6,599.0 510.4,599.0 507.4,599.0 504.4,599.0 501.4,599.0 498.4,599.0 495.4,599.0 492.4,599.0 489.4,599.0 486.4,599.0 483.4,599.0 480.4,599.0 477.4,599.0 474.4,599.0 471.4,599.0 468.4,599.0 465.4,599.0 462.4,599.0 459.4,599.0 456.4,599.0 453.3,598.9 450.3,598.9 447.3,598.8 444.2,598.7 441.2,598.6 438.2,598.4 435.2,598.3 432.1,598.1 429.1,597.9 426.1,597.7 423.1,597.5 420.1,597.4 417.1,597.2 414.1,596.9 411.1,596.7 408.1,596.5 405.1,596.3 402.2,596.1 399.2,596.0 396.1,595.8 393.1,595.5 390.1,595.3 387.1,595.1 384.1,594.8 381.1,594.6 378.1,594.3 375.1,594.0 372.1,593.8 369.1,593.5 366.1,593.2 363.1,593.0 360.2,592.7 357.2,592.4 354.2,592.2 351.2,591.9 348.3,591.6 345.3,591.4 342.3,591.2 339.3,591.0 336.3,590.8 333.4,590.5 330.4,590.3 327.4,590.1 324.4,589.9 321.4,589.7 318.4,589.5 315.4,589.3 312.4,589.1 309.4,588.9 306.5,588.7 303.5,588.5 300.5,588.4 297.5,588.2 294.5,588.0 291.6,587.9 288.6,587.7 285.6,587.6 282.6,587.5 279.7,587.4 276.7,587.3" fill="none" stroke="#8a9494" stroke-opacity=".75" stroke-width="1.15" stroke-dasharray="2.6 2"/>
<polyline points="554.7,413.9 555.2,416.8 555.6,419.8 555.8,422.8 555.9,425.8 555.8,428.8 555.7,431.8 555.4,434.8 555.2,437.8 554.9,440.8 554.6,443.7 554.5,446.7 554.2,449.7 553.7,452.7 553.1,455.6 552.3,458.5 551.3,461.3 550.1,464.1 548.7,466.8 547.2,469.4 545.6,471.9 543.7,474.2 541.8,476.5 539.6,478.6 537.4,480.6 535.0,482.5 532.6,484.2 530.0,485.7 527.3,487.1 524.6,488.3 521.8,489.3 518.9,490.1 515.9,490.8 513.0,491.2 510.0,491.5 507.0,491.5 504.0,491.4 501.0,491.2 498.0,490.8 495.1,490.2 492.2,489.4 489.3,488.5 486.6,487.4 483.9,486.0 481.3,484.5 478.8,482.8 476.5,480.8 474.4,478.7 472.4,476.5 470.7,474.1 469.1,471.5 467.7,468.9 466.5,466.1 465.5,463.3 464.7,460.4 464.1,457.5 463.7,454.5 463.4,451.5 463.4,448.5 463.5,445.5 463.9,442.5 464.4,439.6 465.2,436.7 466.2,433.8 467.4,431.1 468.7,428.4 470.2,425.8 471.9,423.3 473.7,420.9 475.6,418.6 477.6,416.4 479.7,414.3 482.0,412.3 484.3,410.3 486.7,408.5 489.1,406.8 491.7,405.2 494.3,403.8 497.0,402.5 499.7,401.3 502.6,400.2 505.4,399.3 508.3,398.6 511.2,397.9 514.1,396.9 516.9,395.9 519.8,395.0 522.6,394.2 525.6,393.5 528.5,392.9 531.5,392.4 534.4,391.8 537.4,391.4 540.4,391.1 543.4,391.0 546.4,391.1 549.3,391.4 552.3,392.0 555.2,392.8 557.9,394.0 560.5,395.6 562.9,397.3 565.3,399.2 567.6,401.1 569.7,403.2 571.8,405.3 573.8,407.6 575.7,409.9 577.4,412.4 579.1,414.9 580.6,417.5 582.0,420.1 583.2,422.9 584.3,425.6 585.3,428.5 586.1,431.4 586.8,434.3 587.3,437.2 587.7,440.2 587.9,443.2 588.0,446.2 587.9,449.2 587.7,452.2 587.4,455.2 586.9,458.1 586.3,461.1 585.5,464.0 584.7,466.9 583.7,469.7 582.6,472.5 581.4,475.2 580.1,477.9 578.7,480.6 577.2,483.2 575.6,485.7 573.9,488.2 572.2,490.6 570.3,493.0 568.4,495.3 566.4,497.6 564.4,499.7 562.2,501.9 560.0,503.9 557.8,505.9 555.4,507.7 553.0,509.5 550.5,511.2 548.0,512.8 545.4,514.3 542.8,515.7 540.1,517.1 537.3,518.3 534.5,519.4 531.7,520.4 528.9,521.3 526.0,522.1 523.0,522.8 520.1,523.3 517.1,523.8 514.2,524.2 511.2,524.4 508.2,524.5 505.2,524.6 502.2,524.5 499.2,524.4 496.2,524.2 493.2,523.9 490.2,523.5 487.3,523.0 484.3,522.4 481.4,521.7 478.5,520.9 475.7,520.0 472.8,518.9 470.1,517.8 467.3,516.5 464.7,515.1 462.1,513.6 459.6,512.0 457.1,510.3 454.7,508.5 452.5,506.5 450.3,504.4 448.2,502.3 446.2,500.0 444.3,497.7 442.5,495.3 440.9,492.8 439.3,490.3 437.8,487.7 436.4,485.0 435.1,482.3 433.9,479.5 432.9,476.7 431.9,473.9 431.1,471.0 430.4,468.1 429.8,465.1 429.3,462.2 428.9,459.2 428.6,456.2 428.4,453.2 428.4,450.2 428.4,447.2 428.6,444.2 429.0,441.3 429.4,438.3 430.1,435.4 430.8,432.5 431.7,429.6 432.8,426.8 433.9,424.0 435.2,421.3 436.5,418.6 438.0,416.0 439.6,413.4 441.2,410.9 442.9,408.5 444.7,406.1 446.6,403.7 448.5,401.4 450.5,399.2 452.6,397.0 454.6,394.8 456.8,392.7 458.9,390.6 461.1,388.5 463.3,386.5 465.5,384.5 467.8,382.5 470.1,380.6 472.4,378.7 474.8,376.9 477.3,375.2 479.8,373.5 482.3,371.9 484.9,370.4 487.5,369.0 490.2,367.7 492.9,366.4 495.7,365.3 498.5,364.2 501.4,363.3 504.3,362.5 507.2,361.7 510.1,361.1 513.1,360.6 516.0,360.1 519.0,359.6 522.0,359.2 524.9,359.0 527.9,358.8 530.9,358.7 533.9,358.6 536.9,358.6 539.9,358.7 542.9,358.8 545.9,359.1 548.9,359.4 551.9,359.8 554.8,360.4 557.7,361.0 560.7,361.8 563.5,362.7 566.3,363.7 569.1,364.8 571.9,366.0 574.5,367.4 577.1,368.9 579.7,370.5 582.1,372.3 584.5,374.1 586.8,376.1 589.0,378.0 591.2,380.1 593.3,382.2 595.3,384.4 597.3,386.7 599.2,389.0 601.0,391.4 602.8,393.8 604.5,396.3 606.1,398.8 607.6,401.4 609.0,404.1 610.4,406.7 611.7,409.4 612.9,412.2 614.0,415.0 615.0,417.8 615.9,420.7 616.7,423.6 617.5,426.5 618.1,429.4 618.7,432.3 619.1,435.3 619.5,438.3 619.8,441.3 619.9,444.3 620.0,447.3 620.0,450.3 619.9,453.3 619.8,456.3 619.5,459.2 619.2,462.2 618.8,465.2 618.3,468.2 617.7,471.1 617.0,474.0 616.3,476.9 615.5,479.8 614.6,482.7 613.6,485.5 612.5,488.3 611.4,491.1 610.2,493.9 608.9,496.6 607.6,499.2 606.1,501.9 604.6,504.5 603.1,507.0 601.4,509.5 599.7,512.0 597.9,514.4 596.1,516.8 594.2,519.1 592.2,521.4 590.2,523.6 588.1,525.7 585.9,527.8 583.7,529.8 581.4,531.8 579.1,533.7 576.7,535.5 574.3,537.3 571.8,539.0 569.3,540.6 566.8,542.2 564.2,543.7 561.5,545.1 558.9,546.5 556.1,547.8 553.4,549.0 550.6,550.1 547.8,551.2 545.0,552.2 542.1,553.1 539.2,553.9 536.3,554.7 533.4,555.3 530.5,555.9 527.5,556.5 524.6,556.9 521.6,557.3 518.6,557.6 515.6,557.8 512.6,557.9 509.6,558.0 506.6,558.0 503.6,557.9 500.6,557.8 497.6,557.6 494.6,557.4 491.6,557.1 488.7,556.8 485.7,556.4 482.7,555.9 479.8,555.4 476.8,554.8 473.9,554.1 471.0,553.4 468.1,552.6 465.3,551.7 462.4,550.7 459.6,549.7 456.8,548.5 454.1,547.3 451.3,546.1 448.7,544.7 446.0,543.3 443.4,541.8 440.9,540.2 438.4,538.5 436.0,536.8 433.6,534.9 431.3,533.0 429.0,531.0 426.9,529.0 424.8,526.8 422.7,524.6 420.7,522.4 418.8,520.1 416.9,517.7 415.1,515.4 413.4,512.9 411.7,510.4 410.1,507.9 408.5,505.3 407.1,502.7 405.6,500.1 404.3,497.4 403.0,494.7 401.8,491.9 400.7,489.1 399.7,486.3 398.7,483.5 397.8,480.6 397.0,477.7 396.2,474.8 395.6,471.9 395.0,469.0 394.4,466.0 394.0,463.0 393.6,460.1 393.4,457.1 393.2,454.1 393.0,451.1 393.0,448.1 393.0,445.1 393.2,442.1 393.4,439.1 393.8,436.1 394.2,433.2 394.8,430.2 395.5,427.3 396.3,424.4 397.1,421.5 398.1,418.7 399.1,415.9 400.2,413.1 401.5,410.3 402.7,407.6 404.1,405.0 405.5,402.3 407.0,399.7 408.6,397.2 410.2,394.6 411.9,392.2 413.7,389.7 415.5,387.3 417.3,384.9 419.2,382.6 421.1,380.3 423.1,378.1 425.1,375.8 427.1,373.6 429.2,371.5 431.3,369.3 433.4,367.2 435.6,365.1 437.8,363.0 439.9,361.0 442.1,359.0 444.4,357.0 446.6,355.0 448.9,353.0 451.3,351.1 453.6,349.3 456.0,347.5 458.4,345.7 460.9,344.0 463.4,342.3 465.9,340.7 468.5,339.2 471.1,337.7 473.7,336.3 476.4,334.9 479.1,333.6 481.9,332.4 484.6,331.3 487.5,330.2 490.3,329.3 493.2,328.4 496.0,327.6 499.0,326.9 501.9,326.3 504.9,325.7 507.8,325.3 510.8,325.0 513.8,324.8 516.8,324.6 519.8,324.6 522.8,324.6 525.8,324.6 528.8,324.6 531.8,324.8 534.8,324.9 537.8,325.1 540.8,325.4 543.8,325.7 546.7,326.0 549.7,326.5 552.7,326.9 555.6,327.5 558.6,328.1 561.5,328.8 564.4,329.5 567.3,330.3 570.1,331.2 573.0,332.1 575.8,333.1 578.6,334.2 581.4,335.4 584.1,336.6 586.8,337.9 589.5,339.3 592.1,340.7 594.7,342.3 597.2,343.9 599.7,345.5 602.2,347.3 604.5,349.1 606.9,351.0 609.2,352.9 611.4,354.9 613.6,357.0 615.7,359.1 617.8,361.2 619.9,363.4 621.9,365.6 623.8,367.9 625.7,370.2 627.6,372.6 629.4,375.0 631.1,377.5 632.8,379.9 634.4,382.5 636.0,385.0 637.5,387.6 638.9,390.3 640.3,392.9 641.6,395.6 642.9,398.3 644.1,401.1 645.2,403.9 646.3,406.7 647.3,409.5 648.2,412.4 649.1,415.2 649.9,418.1 650.6,421.0 651.3,424.0 651.9,426.9 652.4,429.8 652.8,432.8 653.2,435.8 653.5,438.8 653.8,441.8 653.9,444.8 654.0,447.8 654.1,450.8 654.1,453.8 654.0,456.8 653.8,459.7 653.6,462.7 653.3,465.7 653.0,468.7 652.6,471.7 652.1,474.6 651.6,477.6 651.0,480.5 650.4,483.5 649.7,486.4 648.9,489.3 648.1,492.2 647.2,495.0 646.2,497.9 645.2,500.7 644.1,503.5 643.0,506.3 641.8,509.0 640.5,511.8 639.2,514.5 637.9,517.1 636.4,519.8 635.0,522.4 633.4,524.9 631.8,527.5 630.2,530.0 628.5,532.5 626.7,534.9 624.9,537.3 623.1,539.7 621.2,542.0 619.2,544.2 617.2,546.5 615.1,548.6 613.0,550.8 610.9,552.9 608.7,554.9 606.5,556.9 604.2,558.9 601.9,560.8 599.5,562.7 597.1,564.5 594.7,566.3 592.3,568.0 589.8,569.6 587.2,571.3 584.7,572.8 582.1,574.3 579.5,575.8 576.8,577.2 574.1,578.5 571.4,579.8 568.7,581.1 565.9,582.3 563.2,583.4 560.4,584.5 557.5,585.5 554.7,586.4 551.8,587.3 548.9,588.2 546.0,588.9 543.1,589.7 540.2,590.3 537.3,590.9 534.3,591.4 531.4,591.9 528.4,592.3 525.4,592.7 522.4,593.0 519.4,593.2 516.4,593.4 513.4,593.5 510.4,593.5 507.4,593.5 504.4,593.5 501.4,593.5 498.4,593.5 495.4,593.5 492.4,593.5 489.4,593.5 486.4,593.5 483.4,593.5 480.4,593.5 477.4,593.5 474.4,593.5 471.4,593.5 468.4,593.5 465.4,593.5 462.4,593.5 459.4,593.5 456.4,593.5 453.4,593.4 450.4,593.4 447.4,593.3 444.4,593.2 441.4,593.1 438.4,592.9 435.4,592.8 432.4,592.6 429.5,592.4 426.5,592.3 423.5,592.1 420.5,591.9 417.5,591.7 414.5,591.5 411.5,591.3 408.5,591.1 405.5,590.9 402.5,590.7 399.5,590.5 396.5,590.3 393.5,590.1 390.5,589.8 387.5,589.6 384.6,589.4 381.6,589.1 378.6,588.8 375.6,588.6 372.6,588.3 369.6,588.0 366.6,587.8 363.6,587.5 360.7,587.2 357.7,586.9 354.7,586.7 351.7,586.4 348.7,586.2 345.7,585.9 342.7,585.7 339.7,585.5 336.7,585.3 333.7,585.1 330.7,584.8 327.8,584.6 324.8,584.4 321.8,584.2 318.8,584.0 315.8,583.8 312.8,583.6 309.8,583.4 306.8,583.2 303.8,583.0 300.8,582.9 297.8,582.7 294.8,582.5 291.8,582.4 288.8,582.2 285.8,582.1 282.8,582.0 279.8,581.9 276.8,581.8" fill="none" stroke="#8a9494" stroke-opacity=".75" stroke-width="1.15" stroke-dasharray="2.6 2"/>
<polyline points="549.3,415.0 549.8,417.7 550.1,420.3 550.3,423.1 550.4,425.8 550.3,428.6 550.2,431.4 550.0,434.3 549.7,437.2 549.4,440.3 549.1,443.4 549.0,446.4 548.7,449.1 548.3,451.7 547.8,454.3 547.0,456.8 546.1,459.3 545.1,461.8 543.9,464.2 542.6,466.4 541.1,468.6 539.5,470.7 537.7,472.7 535.9,474.6 533.9,476.4 531.8,478.0 529.6,479.5 527.3,480.9 525.0,482.1 522.6,483.2 520.1,484.0 517.5,484.8 514.9,485.3 512.3,485.7 509.7,486.0 507.0,486.0 504.3,485.9 501.6,485.7 498.9,485.4 496.3,484.9 493.8,484.2 491.3,483.3 488.8,482.3 486.5,481.2 484.3,479.9 482.2,478.4 480.2,476.8 478.4,475.0 476.7,473.1 475.2,471.0 473.8,468.8 472.6,466.5 471.6,464.1 470.7,461.6 470.0,459.1 469.5,456.5 469.1,453.9 468.9,451.3 468.9,448.6 469.0,445.9 469.3,443.4 469.8,440.8 470.5,438.3 471.3,435.8 472.4,433.4 473.5,431.0 474.9,428.7 476.4,426.5 478.0,424.3 479.7,422.2 481.6,420.2 483.5,418.3 485.6,416.4 487.7,414.6 489.9,413.0 492.1,411.4 494.5,410.0 496.8,408.6 499.3,407.4 501.8,406.4 504.3,405.4 506.9,404.6 509.6,404.0 512.8,403.1 515.9,402.1 518.7,401.1 521.4,400.2 523.9,399.5 526.6,398.9 529.6,398.3 532.5,397.8 535.3,397.2 538.1,396.8 540.8,396.6 543.4,396.5 546.0,396.5 548.5,396.8 551.0,397.3 553.3,398.0 555.4,398.9 557.4,400.2 559.6,401.7 561.8,403.4 563.9,405.2 565.9,407.1 567.8,409.0 569.6,411.1 571.3,413.2 572.9,415.5 574.4,417.8 575.8,420.1 577.0,422.5 578.1,425.0 579.2,427.6 580.0,430.1 580.8,432.7 581.4,435.4 581.9,438.1 582.2,440.8 582.4,443.5 582.5,446.2 582.4,448.9 582.2,451.7 581.9,454.4 581.5,457.1 580.9,459.8 580.2,462.5 579.4,465.2 578.5,467.8 577.5,470.4 576.4,473.0 575.2,475.5 573.9,477.9 572.5,480.4 571.0,482.7 569.4,485.1 567.8,487.3 566.1,489.6 564.3,491.7 562.4,493.8 560.4,495.9 558.4,497.9 556.4,499.8 554.3,501.6 552.1,503.4 549.8,505.0 547.5,506.6 545.1,508.1 542.7,509.5 540.3,510.8 537.7,512.1 535.2,513.2 532.6,514.2 530.0,515.2 527.3,516.0 524.6,516.8 521.9,517.4 519.1,517.9 516.4,518.4 513.6,518.7 510.8,518.9 508.0,519.0 505.2,519.1 502.3,519.0 499.5,518.9 496.6,518.7 493.8,518.4 491.0,518.0 488.3,517.6 485.5,517.0 482.8,516.4 480.1,515.6 477.4,514.8 474.8,513.8 472.3,512.7 469.8,511.6 467.3,510.3 464.9,508.9 462.6,507.5 460.4,505.9 458.2,504.2 456.1,502.4 454.2,500.6 452.3,498.6 450.4,496.5 448.7,494.3 447.0,492.1 445.5,489.8 444.0,487.4 442.6,485.0 441.3,482.6 440.1,480.0 439.1,477.5 438.1,474.9 437.2,472.2 436.4,469.6 435.7,466.9 435.2,464.1 434.7,461.4 434.3,458.6 434.1,455.8 433.9,453.0 433.9,450.2 433.9,447.4 434.1,444.7 434.4,442.0 434.8,439.3 435.4,436.6 436.1,434.0 436.9,431.4 437.9,428.8 438.9,426.2 440.1,423.7 441.4,421.2 442.7,418.8 444.2,416.4 445.8,414.0 447.4,411.7 449.1,409.5 450.9,407.2 452.7,405.0 454.6,402.9 456.6,400.8 458.6,398.7 460.6,396.6 462.7,394.5 464.8,392.5 467.0,390.5 469.1,388.6 471.3,386.7 473.5,384.9 475.8,383.1 478.1,381.4 480.4,379.7 482.8,378.2 485.2,376.6 487.6,375.2 490.1,373.9 492.6,372.6 495.1,371.5 497.7,370.4 500.4,369.4 503.0,368.5 505.7,367.8 508.4,367.1 511.2,366.5 514.1,366.0 516.9,365.5 519.7,365.1 522.5,364.7 525.3,364.5 528.2,364.3 531.1,364.2 534.0,364.1 536.9,364.1 539.7,364.2 542.6,364.3 545.4,364.5 548.2,364.9 551.0,365.3 553.7,365.8 556.5,366.4 559.1,367.1 561.8,367.9 564.4,368.8 567.0,369.9 569.5,371.0 571.9,372.2 574.3,373.6 576.6,375.1 578.8,376.7 581.0,378.4 583.2,380.2 585.3,382.1 587.3,384.0 589.3,386.1 591.2,388.1 593.1,390.3 594.9,392.4 596.6,394.7 598.3,397.0 599.9,399.3 601.4,401.7 602.8,404.1 604.2,406.6 605.5,409.1 606.7,411.7 607.8,414.3 608.8,416.9 609.8,419.6 610.6,422.3 611.4,425.0 612.1,427.7 612.7,430.5 613.2,433.3 613.7,436.1 614.0,438.9 614.3,441.7 614.4,444.5 614.5,447.3 614.5,450.2 614.4,453.0 614.3,455.9 614.0,458.7 613.7,461.5 613.3,464.4 612.9,467.2 612.3,470.0 611.7,472.7 611.0,475.5 610.2,478.2 609.3,481.0 608.4,483.7 607.4,486.3 606.3,489.0 605.2,491.6 604.0,494.1 602.7,496.7 601.3,499.2 599.9,501.7 598.4,504.1 596.9,506.5 595.2,508.8 593.5,511.1 591.8,513.3 590.0,515.5 588.1,517.7 586.2,519.8 584.2,521.8 582.1,523.8 580.0,525.7 577.9,527.6 575.7,529.4 573.4,531.1 571.1,532.8 568.8,534.4 566.4,536.0 564.0,537.5 561.5,538.9 559.0,540.2 556.4,541.5 553.9,542.8 551.2,543.9 548.6,545.0 545.9,546.0 543.2,546.9 540.5,547.8 537.8,548.6 535.0,549.3 532.2,550.0 529.4,550.5 526.6,551.0 523.8,551.5 521.0,551.8 518.1,552.1 515.3,552.3 512.4,552.4 509.6,552.5 506.7,552.5 503.8,552.4 500.9,552.3 498.0,552.2 495.1,551.9 492.2,551.7 489.3,551.3 486.5,551.0 483.6,550.5 480.8,550.0 478.0,549.4 475.2,548.8 472.4,548.1 469.7,547.3 467.0,546.4 464.3,545.5 461.6,544.5 458.9,543.5 456.3,542.3 453.8,541.1 451.2,539.8 448.7,538.5 446.3,537.1 443.9,535.6 441.6,534.0 439.3,532.3 437.0,530.6 434.9,528.8 432.8,527.0 430.7,525.0 428.7,523.0 426.8,520.9 424.9,518.8 423.0,516.6 421.3,514.4 419.5,512.1 417.9,509.8 416.3,507.4 414.8,505.0 413.3,502.6 411.9,500.1 410.5,497.5 409.3,495.0 408.1,492.4 406.9,489.8 405.9,487.1 404.9,484.5 403.9,481.8 403.1,479.0 402.3,476.3 401.6,473.5 400.9,470.7 400.4,467.9 399.9,465.1 399.5,462.3 399.1,459.5 398.8,456.6 398.7,453.8 398.5,450.9 398.5,448.1 398.5,445.2 398.6,442.4 398.9,439.7 399.2,436.9 399.7,434.1 400.2,431.4 400.8,428.6 401.5,425.9 402.4,423.2 403.3,420.5 404.2,417.9 405.3,415.2 406.5,412.6 407.7,410.1 409.0,407.5 410.3,405.0 411.8,402.5 413.3,400.1 414.8,397.7 416.4,395.3 418.1,393.0 419.8,390.7 421.6,388.4 423.4,386.1 425.3,383.9 427.2,381.7 429.2,379.5 431.1,377.4 433.2,375.3 435.2,373.2 437.3,371.1 439.4,369.1 441.5,367.0 443.7,365.0 445.8,363.0 448.0,361.1 450.2,359.2 452.5,357.3 454.7,355.4 457.0,353.6 459.3,351.9 461.6,350.2 464.0,348.5 466.4,346.9 468.8,345.4 471.3,343.9 473.8,342.5 476.3,341.1 478.8,339.8 481.4,338.6 484.0,337.5 486.6,336.4 489.3,335.4 492.0,334.5 494.7,333.6 497.4,332.9 500.2,332.2 502.9,331.7 505.7,331.2 508.5,330.8 511.3,330.5 514.1,330.3 517.0,330.1 519.9,330.1 522.8,330.1 525.7,330.1 528.6,330.1 531.6,330.2 534.5,330.4 537.4,330.6 540.3,330.8 543.1,331.1 546.0,331.5 548.9,331.9 551.7,332.4 554.6,332.9 557.4,333.5 560.2,334.1 563.0,334.8 565.7,335.6 568.5,336.4 571.2,337.3 573.9,338.3 576.6,339.3 579.2,340.4 581.8,341.6 584.4,342.8 586.9,344.1 589.4,345.5 591.8,347.0 594.2,348.5 596.6,350.1 598.9,351.7 601.1,353.4 603.4,355.2 605.5,357.1 607.7,359.0 609.8,361.0 611.9,363.0 613.9,365.0 615.8,367.1 617.8,369.3 619.6,371.4 621.5,373.7 623.2,375.9 624.9,378.2 626.6,380.6 628.2,383.0 629.8,385.4 631.2,387.8 632.7,390.3 634.1,392.8 635.4,395.4 636.7,398.0 637.9,400.6 639.0,403.2 640.1,405.9 641.1,408.6 642.1,411.3 643.0,414.0 643.8,416.8 644.6,419.5 645.3,422.3 645.9,425.1 646.5,427.9 647.0,430.7 647.4,433.6 647.8,436.4 648.1,439.3 648.3,442.1 648.5,445.0 648.6,447.9 648.6,450.8 648.6,453.7 648.5,456.5 648.3,459.4 648.1,462.3 647.9,465.2 647.5,468.0 647.2,470.9 646.7,473.7 646.2,476.6 645.6,479.4 645.0,482.2 644.3,485.0 643.6,487.8 642.8,490.6 641.9,493.3 641.0,496.1 640.0,498.8 639.0,501.5 637.9,504.1 636.8,506.8 635.6,509.4 634.3,512.0 633.0,514.6 631.6,517.1 630.2,519.6 628.7,522.1 627.2,524.5 625.6,526.9 624.0,529.3 622.3,531.6 620.6,533.9 618.8,536.2 617.0,538.4 615.1,540.6 613.1,542.7 611.2,544.8 609.1,546.9 607.1,548.9 605.0,550.9 602.8,552.8 600.6,554.7 598.4,556.5 596.2,558.3 593.9,560.1 591.5,561.8 589.2,563.4 586.8,565.0 584.3,566.6 581.9,568.1 579.4,569.6 576.8,571.0 574.3,572.3 571.7,573.6 569.1,574.9 566.5,576.1 563.8,577.2 561.2,578.3 558.4,579.3 555.7,580.3 553.0,581.2 550.2,582.1 547.5,582.9 544.7,583.6 541.9,584.3 539.1,584.9 536.2,585.5 533.4,586.0 530.5,586.5 527.7,586.9 524.8,587.2 521.9,587.5 519.1,587.7 516.2,587.9 513.3,588.0 510.4,588.0 507.4,588.0 504.4,588.0 501.4,588.0 498.4,588.0 495.4,588.0 492.4,588.0 489.4,588.0 486.4,588.0 483.4,588.0 480.4,588.0 477.4,588.0 474.4,588.0 471.4,588.0 468.4,588.0 465.4,588.0 462.4,588.0 459.4,588.0 456.5,588.0 453.5,587.9 450.6,587.9 447.6,587.8 444.6,587.7 441.7,587.6 438.7,587.4 435.7,587.3 432.8,587.1 429.8,586.9 426.8,586.8 423.8,586.6 420.8,586.4 417.8,586.2 414.9,586.0 411.9,585.8 408.9,585.6 405.9,585.4 402.9,585.2 399.9,585.0 396.9,584.8 393.9,584.6 391.0,584.4 388.0,584.1 385.0,583.9 382.0,583.6 379.1,583.4 376.1,583.1 373.1,582.8 370.1,582.5 367.1,582.3 364.1,582.0 361.2,581.7 358.2,581.5 355.2,581.2 352.2,580.9 349.1,580.7 346.1,580.4 343.1,580.2 340.1,580.0 337.1,579.8 334.1,579.6 331.1,579.4 328.1,579.1 325.1,578.9 322.2,578.7 319.2,578.5 316.2,578.3 313.2,578.1 310.1,577.9 307.1,577.7 304.1,577.5 301.1,577.4 298.1,577.2 295.1,577.0 292.1,576.9 289.1,576.8 286.1,576.6 283.0,576.5 280.0,576.4 277.0,576.3" fill="none" stroke="#8a9494" stroke-opacity=".75" stroke-width="1.15" stroke-dasharray="2.6 2"/>
<path d="M383.5 566 Q386 570 387.6 576.5 Q389.6 583 392.4 578.6 Q395 573 398.5 567.5 Z" fill="#fff"/>
</g>

<g id="carabiner" fill="none" stroke-linecap="round" stroke-linejoin="round">
<path d="M227.5 563.6 Q233 558.4 239 560.4 Q243 561.8 246 566" stroke="#2743b0" stroke-width="5.4"/>
<path d="M228.5 562.6 Q233.5 558.8 239 561" stroke="#5476dc" stroke-width="1.4"/>
<path d="M188.6 551.4 Q181.6 548.4 175.4 552.4 Q170.8 555.6 167.8 560 L154.8 585.4 Q150.6 596.8 160.2 601 Q166.4 603.6 176 603.8 L204 604.4 Q226 604 236 602.2 L250 599.8" stroke="#1a2280" stroke-width="12.8"/>
<path d="M188.6 551.4 Q181.6 548.4 175.4 552.4 Q170.8 555.6 167.8 560 L154.8 585.4 Q150.6 596.8 160.2 601 Q166.4 603.6 176 603.8 L204 604.4 Q226 604 236 602.2 L250 599.8" stroke="#5669cc" stroke-width="8"/>
<path d="M188.6 551.4 Q181.6 548.4 175.4 552.4 Q170.8 555.6 167.8 560 L154.8 585.4 Q150.6 596.8 160.2 601 Q166.4 603.6 176 603.8 L204 604.4 Q226 604 236 602.2 L250 599.8" stroke="#2a39ac" stroke-width="6.4"/>
<path d="M188.6 551.4 Q181.6 548.4 175.4 552.4 Q170.8 555.6 167.8 560 L154.8 585.4 Q150.6 596.8 160.2 601 Q166.4 603.6 176 603.8 L204 604.4 Q226 604 236 602.2 L250 599.8" stroke="#4558c4" stroke-opacity=".7" stroke-width="1.6"/>
<path d="M183.5 556.4 Q180.3 555 182.6 553.2 L234.5 563.8" stroke="#7c7e86" stroke-width="5"/>
<path d="M184 554.8 L234.5 563" stroke="#e6e8ec" stroke-width="2.8"/>
<path d="M184 555.6 L234.5 563.5" stroke="#9a9ca4" stroke-width=".7"/>
</g>


<g id="tailend">
<path d="M229.3 564.6 L250 563.2 L282 562.8 Q284 581 283 600 L250 599.8 L231 598.6 Q229.5 598.5 229.3 597 L227.8 566 Q227.8 564.7 229.3 564.6 Z" fill="#50b9d8"/>
<path d="M229.3 564.6 L250 563.2 L282 562.8 Q284 581 283 600 L250 599.8 L231 598.6 Q229.5 598.5 229.3 597 L227.8 566 Q227.8 564.7 229.3 564.6 Z" fill="url(#weave2)"/>
<path d="M272 563.4 L272 599.6" stroke="#8fa3a3" stroke-opacity=".6" stroke-width="1.1" stroke-dasharray="1.6 1.4" fill="none"/>
<path d="M282.6 563 Q284 581 283.2 600" stroke="#2287b3" stroke-opacity=".75" stroke-width="1.6" fill="none"/>
<g fill="none" stroke="#86a0a6" stroke-opacity=".6" stroke-width="1.1" stroke-dasharray="2.6 2">
<path d="M229 577 L283 577.2"/><path d="M229 582.4 L283 582.6"/><path d="M229 587.8 L283 588"/>
</g>
</g>


<g id="strap">
<path d="M533.4 88.6 Q533.3 87.6 534.6 87.4 L571 85.2 Q572.3 85.2 572.4 86.4 L573 225 L576.2 330 L576.3 412.5 L535.8 412.5 L535.6 330 L534.3 225 Z" fill="url(#gs)"/>
<path d="M533.4 88.6 Q533.3 87.6 534.6 87.4 L571 85.2 Q572.3 85.2 572.4 86.4 L573 225 L576.2 330 L576.3 412.5 L535.8 412.5 L535.6 330 L534.3 225 Z" fill="url(#weave)"/>
<path d="M535.7 372.6 L576.2 372.6 L576.3 412.5 L535.8 412.5 Z" fill="#62c4dc"/>
<path d="M536 373.2 L576 373.2" stroke="#9adbe9" stroke-width="1.2" stroke-dasharray="1.6 1.2" fill="none"/>
<path d="M536 411.6 L576.2 411.6" stroke="#2f9cc4" stroke-opacity=".7" stroke-width="1.6" fill="none"/>
<path d="M537 408 L575.5 408" stroke="#8fa3a3" stroke-opacity=".75" stroke-width="1.1" stroke-dasharray="1.6 1.4" fill="none"/>
<g fill="none" stroke="#7a8f94" stroke-opacity=".9" stroke-width="1.3" stroke-dasharray="2.2 1.4">
<path d="M546.9 88.5 L547.6 225 L549.6 330 L549.8 411"/><path d="M552.5 88 L553.3 225 L555.4 330 L555.6 411"/><path d="M557.6 87.8 L558.4 225 L560.6 330 L560.8 411"/>
</g>
</g>


<g id="red" fill="none" stroke="#d8263f" stroke-width="5.2" stroke-linecap="round" stroke-linejoin="round">
<path d="M137.0 548.0 C134.8 545.5 129.5 539.5 124.0 533.0 C118.5 526.5 110.9 518.1 104.0 509.3 C97.1 500.5 89.4 489.3 82.7 480.0 C76.0 470.7 69.6 462.2 64.0 453.3 C58.4 444.4 53.8 435.6 49.3 426.7 C44.8 417.8 41.1 408.9 37.3 400.0 C33.5 391.1 29.6 381.6 26.7 373.3 C23.8 365.0 20.8 355.5 19.6 350.0 C18.4 344.5 18.6 342.6 19.4 340.5 C20.2 338.4 22.3 337.1 24.2 337.2 C26.1 337.3 27.6 337.6 30.7 341.0 C33.8 344.4 38.3 350.1 42.7 357.3 C47.1 364.5 52.6 375.1 57.3 384.0 C62.0 392.9 66.5 401.8 70.7 410.7 C74.9 419.6 78.5 428.4 82.7 437.3 C86.9 446.2 91.6 455.1 96.0 464.0 C100.4 472.9 105.1 482.0 109.3 490.7 C113.5 499.4 117.3 508.3 121.3 516.0 C125.2 523.7 129.7 531.8 133.0 537.0 C136.3 542.2 139.7 545.3 141.0 547.0"/>
<path d="M137.0 548.0 C134.8 545.5 129.5 539.5 124.0 533.0 C118.5 526.5 110.9 518.1 104.0 509.3 C97.1 500.5 89.4 489.3 82.7 480.0 C76.0 470.7 69.6 462.2 64.0 453.3 C58.4 444.4 53.8 435.6 49.3 426.7 C44.8 417.8 41.1 408.9 37.3 400.0 C33.5 391.1 29.6 381.6 26.7 373.3 C23.8 365.0 20.8 355.5 19.6 350.0 C18.4 344.5 18.6 342.6 19.4 340.5 C20.2 338.4 22.3 337.1 24.2 337.2 C26.1 337.3 27.6 337.6 30.7 341.0 C33.8 344.4 38.3 350.1 42.7 357.3 C47.1 364.5 52.6 375.1 57.3 384.0 C62.0 392.9 66.5 401.8 70.7 410.7 C74.9 419.6 78.5 428.4 82.7 437.3 C86.9 446.2 91.6 455.1 96.0 464.0 C100.4 472.9 105.1 482.0 109.3 490.7 C113.5 499.4 117.3 508.3 121.3 516.0 C125.2 523.7 129.7 531.8 133.0 537.0 C136.3 542.2 139.7 545.3 141.0 547.0" stroke="#e9566b" stroke-opacity=".55" stroke-width="1.4"/>
<path d="M146 552.5 C156 556 166 560.5 170 565 C172.4 570 169.6 575.4 163.6 576 C156.6 576.6 148 570 143.8 561.6" stroke-width="5.4"/>
<path d="M146 552.5 C156 556 166 560.5 170 565" stroke="#e9566b" stroke-opacity=".6" stroke-width="1.3"/>
<path d="M138.4 535.6 C141 539 143 544 146.4 554.6" stroke-width="9.6"/>
<path d="M139 533.6 L141.6 538" stroke-width="5"/>
<path d="M137.4 540 C141 546 143 550 145 557" stroke="#b5182f" stroke-opacity=".7" stroke-width="1.3"/>
<path d="M142 538 C145 543 147.4 548 148.6 553" stroke="#ee6a7c" stroke-opacity=".6" stroke-width="1.2"/>
</g>


<g id="arrows" fill="none" stroke="#7b5c45" stroke-width="2.2" stroke-linecap="round" stroke-linejoin="round">
<path d="M155.6 351.7 C151 378 130 399 97 400.8"/><path d="M108 389 L96.8 400.5 L109 411.5"/>
<path d="M633.2 281.8 C643 300 642 318 624 333.4"/><path d="M623.4 322.6 L623.7 333.5 L636.8 333.6"/>
<path d="M140.7 648.9 C152 653.2 168 655.4 181 649 C190 644.5 197 637 201.6 629.2"/><path d="M188.4 630.7 L202 628.6 L204 643"/>
<path d="M669.3 597 C664 586.5 655 577 637.4 570.6"/><path d="M642.2 584.6 L636.2 570 L652.3 564.7"/>
</g>

</svg>
<div class="t" style="left:99.9px;top:268.5px;font-size:22.0px;line-height:22.0px;letter-spacing:0.7px;-webkit-text-stroke-width:0.62px;transform:translateY(-18.62px) scale(1.1614,1.0)">Designed for</div>
<div class="t" style="left:99.37px;top:303.1px;font-size:22.0px;line-height:22.0px;letter-spacing:0.7px;-webkit-text-stroke-width:0.62px;transform:translateY(-18.62px) scale(1.207,1.0)">mountain</div>
<div class="t" style="left:99.39px;top:336.6px;font-size:22.0px;line-height:22.0px;letter-spacing:0.7px;-webkit-text-stroke-width:0.62px;transform:translateY(-18.62px) scale(1.1704,1.0)">biking.</div>
<div class="t" style="left:583.54px;top:202.0px;font-size:18.0px;line-height:18.0px;letter-spacing:0.6px;-webkit-text-stroke-width:0.55px;transform:translateY(-15.24px) scale(1.2244,1.0)">Stretches from</div>
<div class="t" style="left:583.74px;top:230.8px;font-size:18.0px;line-height:18.0px;letter-spacing:0.6px;-webkit-text-stroke-width:0.55px;transform:translateY(-15.24px) scale(1.2218,1.0)">5.5 to 10.8 feet</div>
<div class="t" style="left:583.4px;top:258.9px;font-size:18.0px;line-height:18.0px;letter-spacing:0.6px;-webkit-text-stroke-width:0.55px;transform:translateY(-15.24px) scale(1.2414,1.0)">(1.7m to 3 m)</div>
<div class="t" style="left:12.15px;top:581.1px;font-size:19.6px;line-height:19.6px;letter-spacing:0.5px;-webkit-text-stroke-width:0.42px;transform:translateY(-16.59px) scale(1.0758,1.0)">Carabiner +</div>
<div class="t" style="left:21.83px;top:612px;font-size:19.6px;line-height:19.6px;letter-spacing:0.5px;-webkit-text-stroke-width:0.42px;transform:translateY(-16.59px) scale(1.0931,1.0)">stem loop</div>
<div class="t" style="left:8.23px;top:643.3px;font-size:19.6px;line-height:19.6px;letter-spacing:0.5px;-webkit-text-stroke-width:0.42px;transform:translateY(-16.59px) scale(1.1072,1.0)">attachments</div>
<div class="t" style="left:28.13px;top:674.3px;font-size:19.6px;line-height:19.6px;letter-spacing:0.5px;-webkit-text-stroke-width:0.42px;transform:translateY(-16.59px) scale(1.1065,1.0)">included</div>
<div class="t" style="left:567.13px;top:641.3px;font-size:28px;line-height:28px;letter-spacing:0.0px;-webkit-text-stroke-width:1.1px;transform:translateY(-29.86px) scale(0.7895,1.26)">Trail tested, shock</div>
<div class="t" style="left:566.33px;top:695.9px;font-size:28px;line-height:28px;letter-spacing:0.0px;-webkit-text-stroke-width:1.1px;transform:translateY(-29.86px) scale(0.8276,1.26)">absorbing rope</div>
</body></html>
